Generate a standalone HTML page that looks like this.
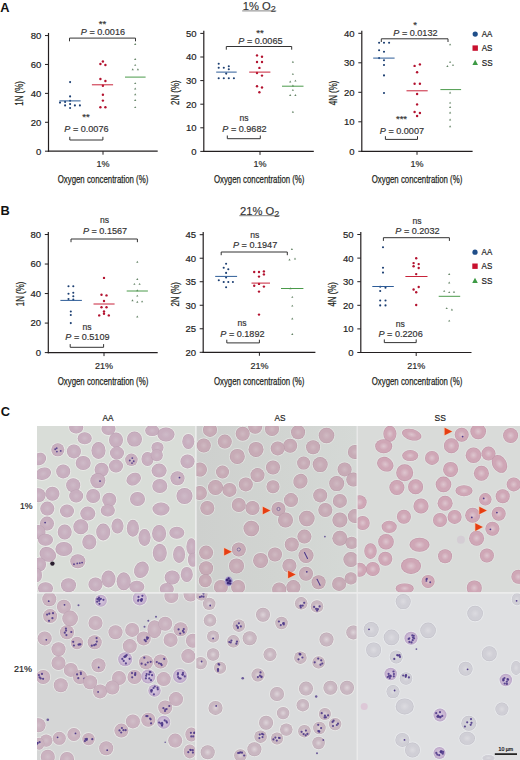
<!DOCTYPE html>
<html><head><meta charset="utf-8"><style>
html,body{margin:0;padding:0;background:#fff;}
svg{display:block;font-family:"Liberation Sans", sans-serif;}
</style></head><body>
<svg width="520" height="760" viewBox="0 0 520 760">
<rect width="520" height="760" fill="#fff"/>
<text x="0.3" y="11.8" font-size="12.8" text-anchor="start" fill="#111" font-weight="bold" >A</text>
<text x="0.6" y="215.2" font-size="12.8" text-anchor="start" fill="#111" font-weight="bold" >B</text>
<text x="0.8" y="416.3" font-size="12.8" text-anchor="start" fill="#111" font-weight="bold" >C</text>
<text x="259.2" y="10.1" font-size="11.2" text-anchor="middle" fill="#333" stroke="#333" stroke-width="0.15">1% O<tspan font-size="9" dy="2.2">2</tspan></text>
<line x1="242.2" y1="10.9" x2="276.3" y2="10.9" stroke="#777" stroke-width="0.9"/>
<text x="259.7" y="214.9" font-size="11.2" text-anchor="middle" fill="#333" stroke="#333" stroke-width="0.15">21% O<tspan font-size="9" dy="2.2">2</tspan></text>
<line x1="239.3" y1="215.7" x2="279.6" y2="215.7" stroke="#777" stroke-width="0.9"/>
<line x1="48.5" y1="32.95199999999999" x2="48.5" y2="151.79999999999998" stroke="#231f20" stroke-width="1.2"/>
<line x1="47.9" y1="151.2" x2="157.7" y2="151.2" stroke="#231f20" stroke-width="1.2"/>
<line x1="45.0" y1="151.2" x2="48.5" y2="151.2" stroke="#231f20" stroke-width="1"/>
<text x="41.3" y="154.6" font-size="9.4" text-anchor="end" fill="#222" textLength="5.3" lengthAdjust="spacingAndGlyphs"  stroke="#222" stroke-width="0.18">0</text>
<line x1="45.0" y1="122.28799999999998" x2="48.5" y2="122.28799999999998" stroke="#231f20" stroke-width="1"/>
<text x="41.3" y="125.68799999999999" font-size="9.4" text-anchor="end" fill="#222" textLength="10.6" lengthAdjust="spacingAndGlyphs"  stroke="#222" stroke-width="0.18">20</text>
<line x1="45.0" y1="93.37599999999999" x2="48.5" y2="93.37599999999999" stroke="#231f20" stroke-width="1"/>
<text x="41.3" y="96.776" font-size="9.4" text-anchor="end" fill="#222" textLength="10.6" lengthAdjust="spacingAndGlyphs"  stroke="#222" stroke-width="0.18">40</text>
<line x1="45.0" y1="64.46399999999998" x2="48.5" y2="64.46399999999998" stroke="#231f20" stroke-width="1"/>
<text x="41.3" y="67.86399999999999" font-size="9.4" text-anchor="end" fill="#222" textLength="10.6" lengthAdjust="spacingAndGlyphs"  stroke="#222" stroke-width="0.18">60</text>
<line x1="45.0" y1="35.55199999999999" x2="48.5" y2="35.55199999999999" stroke="#231f20" stroke-width="1"/>
<text x="41.3" y="38.95199999999999" font-size="9.4" text-anchor="end" fill="#222" textLength="10.6" lengthAdjust="spacingAndGlyphs"  stroke="#222" stroke-width="0.18">80</text>
<line x1="103" y1="151.2" x2="103" y2="154.7" stroke="#231f20" stroke-width="1"/>
<text x="103" y="166.7" font-size="9" text-anchor="middle" fill="#2a2a2a"  stroke="#2a2a2a" stroke-width="0.18">1%</text>
<text x="103.0" y="182.9" font-size="11.4" text-anchor="middle" fill="#231f20" textLength="90.5" lengthAdjust="spacingAndGlyphs" stroke="#231f20" stroke-width="0.25">Oxygen concentration (%)</text>
<text x="0" y="0" font-size="11.5" text-anchor="middle" fill="#231f20" stroke="#231f20" stroke-width="0.25" textLength="24.5" lengthAdjust="spacingAndGlyphs" transform="translate(23.4,93.4) rotate(-90)">1N (%)</text>
<line x1="203.8" y1="30.800000000000004" x2="203.8" y2="152.0" stroke="#231f20" stroke-width="1.2"/>
<line x1="203.20000000000002" y1="151.4" x2="313.8" y2="151.4" stroke="#231f20" stroke-width="1.2"/>
<line x1="200.3" y1="151.4" x2="203.8" y2="151.4" stroke="#231f20" stroke-width="1"/>
<text x="196.60000000000002" y="154.8" font-size="9.4" text-anchor="end" fill="#222" textLength="5.3" lengthAdjust="spacingAndGlyphs"  stroke="#222" stroke-width="0.18">0</text>
<line x1="200.3" y1="127.80000000000001" x2="203.8" y2="127.80000000000001" stroke="#231f20" stroke-width="1"/>
<text x="196.60000000000002" y="131.20000000000002" font-size="9.4" text-anchor="end" fill="#222" textLength="10.6" lengthAdjust="spacingAndGlyphs"  stroke="#222" stroke-width="0.18">10</text>
<line x1="200.3" y1="104.20000000000002" x2="203.8" y2="104.20000000000002" stroke="#231f20" stroke-width="1"/>
<text x="196.60000000000002" y="107.60000000000002" font-size="9.4" text-anchor="end" fill="#222" textLength="10.6" lengthAdjust="spacingAndGlyphs"  stroke="#222" stroke-width="0.18">20</text>
<line x1="200.3" y1="80.60000000000001" x2="203.8" y2="80.60000000000001" stroke="#231f20" stroke-width="1"/>
<text x="196.60000000000002" y="84.00000000000001" font-size="9.4" text-anchor="end" fill="#222" textLength="10.6" lengthAdjust="spacingAndGlyphs"  stroke="#222" stroke-width="0.18">30</text>
<line x1="200.3" y1="57.000000000000014" x2="203.8" y2="57.000000000000014" stroke="#231f20" stroke-width="1"/>
<text x="196.60000000000002" y="60.40000000000001" font-size="9.4" text-anchor="end" fill="#222" textLength="10.6" lengthAdjust="spacingAndGlyphs"  stroke="#222" stroke-width="0.18">40</text>
<line x1="200.3" y1="33.400000000000006" x2="203.8" y2="33.400000000000006" stroke="#231f20" stroke-width="1"/>
<text x="196.60000000000002" y="36.800000000000004" font-size="9.4" text-anchor="end" fill="#222" textLength="10.6" lengthAdjust="spacingAndGlyphs"  stroke="#222" stroke-width="0.18">50</text>
<line x1="260" y1="151.4" x2="260" y2="154.9" stroke="#231f20" stroke-width="1"/>
<text x="260" y="166.7" font-size="9" text-anchor="middle" fill="#2a2a2a"  stroke="#2a2a2a" stroke-width="0.18">1%</text>
<text x="259.2" y="182.9" font-size="11.4" text-anchor="middle" fill="#231f20" textLength="90.5" lengthAdjust="spacingAndGlyphs" stroke="#231f20" stroke-width="0.25">Oxygen concentration (%)</text>
<text x="0" y="0" font-size="11.5" text-anchor="middle" fill="#231f20" stroke="#231f20" stroke-width="0.25" textLength="24.5" lengthAdjust="spacingAndGlyphs" transform="translate(178.8,92.7) rotate(-90)">2N (%)</text>
<line x1="361.8" y1="30.70000000000001" x2="361.8" y2="151.9" stroke="#231f20" stroke-width="1.2"/>
<line x1="361.2" y1="151.3" x2="472.6" y2="151.3" stroke="#231f20" stroke-width="1.2"/>
<line x1="358.3" y1="151.3" x2="361.8" y2="151.3" stroke="#231f20" stroke-width="1"/>
<text x="354.6" y="154.70000000000002" font-size="9.4" text-anchor="end" fill="#222" textLength="5.3" lengthAdjust="spacingAndGlyphs"  stroke="#222" stroke-width="0.18">0</text>
<line x1="358.3" y1="121.80000000000001" x2="361.8" y2="121.80000000000001" stroke="#231f20" stroke-width="1"/>
<text x="354.6" y="125.20000000000002" font-size="9.4" text-anchor="end" fill="#222" textLength="10.6" lengthAdjust="spacingAndGlyphs"  stroke="#222" stroke-width="0.18">10</text>
<line x1="358.3" y1="92.30000000000001" x2="361.8" y2="92.30000000000001" stroke="#231f20" stroke-width="1"/>
<text x="354.6" y="95.70000000000002" font-size="9.4" text-anchor="end" fill="#222" textLength="10.6" lengthAdjust="spacingAndGlyphs"  stroke="#222" stroke-width="0.18">20</text>
<line x1="358.3" y1="62.80000000000001" x2="361.8" y2="62.80000000000001" stroke="#231f20" stroke-width="1"/>
<text x="354.6" y="66.20000000000002" font-size="9.4" text-anchor="end" fill="#222" textLength="10.6" lengthAdjust="spacingAndGlyphs"  stroke="#222" stroke-width="0.18">30</text>
<line x1="358.3" y1="33.30000000000001" x2="361.8" y2="33.30000000000001" stroke="#231f20" stroke-width="1"/>
<text x="354.6" y="36.70000000000001" font-size="9.4" text-anchor="end" fill="#222" textLength="10.6" lengthAdjust="spacingAndGlyphs"  stroke="#222" stroke-width="0.18">40</text>
<line x1="417" y1="151.3" x2="417" y2="154.8" stroke="#231f20" stroke-width="1"/>
<text x="417" y="166.7" font-size="9" text-anchor="middle" fill="#2a2a2a"  stroke="#2a2a2a" stroke-width="0.18">1%</text>
<text x="417.0" y="182.9" font-size="11.4" text-anchor="middle" fill="#231f20" textLength="90.5" lengthAdjust="spacingAndGlyphs" stroke="#231f20" stroke-width="0.25">Oxygen concentration (%)</text>
<text x="0" y="0" font-size="11.5" text-anchor="middle" fill="#231f20" stroke="#231f20" stroke-width="0.25" textLength="24.5" lengthAdjust="spacingAndGlyphs" transform="translate(337.3,93) rotate(-90)">4N (%)</text>
<circle cx="70.1" cy="82.1" r="1.05" fill="#1c3f72" opacity="1"/>
<circle cx="70.1" cy="96.4" r="1.05" fill="#1c3f72" opacity="1"/>
<circle cx="70.1" cy="100.7" r="1.05" fill="#1c3f72" opacity="1"/>
<circle cx="60" cy="102.6" r="1.05" fill="#1c3f72" opacity="1"/>
<circle cx="65.1" cy="101.9" r="1.05" fill="#1c3f72" opacity="1"/>
<circle cx="70.1" cy="104.1" r="1.05" fill="#1c3f72" opacity="1"/>
<circle cx="65.1" cy="105.4" r="1.05" fill="#1c3f72" opacity="1"/>
<circle cx="74.9" cy="105.4" r="1.05" fill="#1c3f72" opacity="1"/>
<circle cx="79.9" cy="105.4" r="1.05" fill="#1c3f72" opacity="1"/>
<circle cx="70.1" cy="108" r="1.05" fill="#1c3f72" opacity="1"/>
<circle cx="100.4" cy="64" r="1.2" fill="#b3122f" opacity="1"/>
<circle cx="102.9" cy="61.5" r="1.2" fill="#b3122f" opacity="1"/>
<circle cx="105.4" cy="65" r="1.2" fill="#b3122f" opacity="1"/>
<circle cx="100.4" cy="79" r="1.2" fill="#b3122f" opacity="1"/>
<circle cx="105.4" cy="81" r="1.2" fill="#b3122f" opacity="1"/>
<circle cx="102.9" cy="85.8" r="1.2" fill="#b3122f" opacity="1"/>
<circle cx="102.9" cy="94.8" r="1.2" fill="#b3122f" opacity="1"/>
<circle cx="102.9" cy="100.6" r="1.2" fill="#b3122f" opacity="1"/>
<circle cx="100.4" cy="107.3" r="1.2" fill="#b3122f" opacity="1"/>
<circle cx="105.4" cy="107.3" r="1.2" fill="#b3122f" opacity="1"/>
<path d="M134.10,45.00 L135.20,43.10 L136.30,45.00 Z" fill="#4a6e4c" opacity="0.85"/>
<path d="M134.10,60.00 L135.20,58.10 L136.30,60.00 Z" fill="#4a6e4c" opacity="0.85"/>
<path d="M134.10,65.80 L135.20,63.90 L136.30,65.80 Z" fill="#4a6e4c" opacity="0.85"/>
<path d="M131.60,70.20 L132.70,68.30 L133.80,70.20 Z" fill="#4a6e4c" opacity="0.85"/>
<path d="M136.80,70.20 L137.90,68.30 L139.00,70.20 Z" fill="#4a6e4c" opacity="0.85"/>
<path d="M134.10,84.10 L135.20,82.20 L136.30,84.10 Z" fill="#4a6e4c" opacity="0.85"/>
<path d="M134.10,89.50 L135.20,87.60 L136.30,89.50 Z" fill="#4a6e4c" opacity="0.85"/>
<path d="M134.10,95.20 L135.20,93.30 L136.30,95.20 Z" fill="#4a6e4c" opacity="0.85"/>
<path d="M134.10,101.00 L135.20,99.10 L136.30,101.00 Z" fill="#4a6e4c" opacity="0.85"/>
<path d="M134.10,108.10 L135.20,106.20 L136.30,108.10 Z" fill="#4a6e4c" opacity="0.85"/>
<line x1="59.4" y1="100.9" x2="80.6" y2="100.9" stroke="#2d5c98" stroke-width="1.0"/>
<line x1="91.9" y1="84.8" x2="113.1" y2="84.8" stroke="#c8233a" stroke-width="1.0"/>
<line x1="125" y1="77.1" x2="145.6" y2="77.1" stroke="#4a9a4a" stroke-width="1.0"/>
<text x="102.9" y="34.800000000000004" font-size="9.3" text-anchor="middle" fill="#333" stroke="#333" stroke-width="0.18" textLength="44.2" lengthAdjust="spacingAndGlyphs"><tspan font-style="italic">P</tspan> = 0.0016</text>
<text x="102.5" y="27.1" font-size="9.5" text-anchor="middle" fill="#333"  stroke="#333" stroke-width="0.18">**</text>
<path d="M69.5,41.300000000000004 V38.1 H135.5 V41.300000000000004" fill="none" stroke="#333" stroke-width="1"/>
<text x="86.4" y="132.0" font-size="9.3" text-anchor="middle" fill="#333" stroke="#333" stroke-width="0.18" textLength="44.2" lengthAdjust="spacingAndGlyphs"><tspan font-style="italic">P</tspan> = 0.0076</text>
<text x="86" y="120.19999999999999" font-size="9.5" text-anchor="middle" fill="#333"  stroke="#333" stroke-width="0.18">**</text>
<path d="M69.8,136.8 V140.0 H102.9 V136.8" fill="none" stroke="#333" stroke-width="1"/>
<circle cx="218.7" cy="63.8" r="1.05" fill="#1c3f72" opacity="1"/>
<circle cx="218.7" cy="67.8" r="1.05" fill="#1c3f72" opacity="1"/>
<circle cx="223.8" cy="67.8" r="1.05" fill="#1c3f72" opacity="1"/>
<circle cx="228.8" cy="66.2" r="1.05" fill="#1c3f72" opacity="1"/>
<circle cx="228.8" cy="69.2" r="1.05" fill="#1c3f72" opacity="1"/>
<circle cx="226.2" cy="73.6" r="1.05" fill="#1c3f72" opacity="1"/>
<circle cx="218.7" cy="78.3" r="1.05" fill="#1c3f72" opacity="1"/>
<circle cx="223.8" cy="78.3" r="1.05" fill="#1c3f72" opacity="1"/>
<circle cx="228.8" cy="78.3" r="1.05" fill="#1c3f72" opacity="1"/>
<circle cx="233.9" cy="78.3" r="1.05" fill="#1c3f72" opacity="1"/>
<circle cx="257" cy="55.4" r="1.2" fill="#b3122f" opacity="1"/>
<circle cx="262" cy="56.7" r="1.2" fill="#b3122f" opacity="1"/>
<circle cx="257" cy="62" r="1.2" fill="#b3122f" opacity="1"/>
<circle cx="262" cy="62" r="1.2" fill="#b3122f" opacity="1"/>
<circle cx="259.4" cy="67.9" r="1.2" fill="#b3122f" opacity="1"/>
<circle cx="257" cy="73" r="1.2" fill="#b3122f" opacity="1"/>
<circle cx="262" cy="75.6" r="1.2" fill="#b3122f" opacity="1"/>
<circle cx="257" cy="86.2" r="1.2" fill="#b3122f" opacity="1"/>
<circle cx="262" cy="87.5" r="1.2" fill="#b3122f" opacity="1"/>
<circle cx="259.4" cy="92.3" r="1.2" fill="#b3122f" opacity="1"/>
<path d="M291.80,62.70 L292.90,60.80 L294.00,62.70 Z" fill="#4a6e4c" opacity="0.85"/>
<path d="M291.80,74.80 L292.90,72.90 L294.00,74.80 Z" fill="#4a6e4c" opacity="0.85"/>
<path d="M289.10,82.50 L290.20,80.60 L291.30,82.50 Z" fill="#4a6e4c" opacity="0.85"/>
<path d="M294.30,81.60 L295.40,79.70 L296.50,81.60 Z" fill="#4a6e4c" opacity="0.85"/>
<path d="M291.80,86.40 L292.90,84.50 L294.00,86.40 Z" fill="#4a6e4c" opacity="0.85"/>
<path d="M291.80,90.80 L292.90,88.90 L294.00,90.80 Z" fill="#4a6e4c" opacity="0.85"/>
<path d="M289.10,96.00 L290.20,94.10 L291.30,96.00 Z" fill="#4a6e4c" opacity="0.85"/>
<path d="M294.30,96.00 L295.40,94.10 L296.50,96.00 Z" fill="#4a6e4c" opacity="0.85"/>
<path d="M291.80,112.70 L292.90,110.80 L294.00,112.70 Z" fill="#4a6e4c" opacity="0.85"/>
<line x1="216.2" y1="72.1" x2="236.7" y2="72.1" stroke="#2d5c98" stroke-width="1.0"/>
<line x1="249.2" y1="72.1" x2="270.4" y2="72.1" stroke="#c8233a" stroke-width="1.0"/>
<line x1="282" y1="86.2" x2="303.5" y2="86.2" stroke="#4a9a4a" stroke-width="1.0"/>
<text x="260.4" y="43.900000000000006" font-size="9.3" text-anchor="middle" fill="#333" stroke="#333" stroke-width="0.18" textLength="44.2" lengthAdjust="spacingAndGlyphs"><tspan font-style="italic">P</tspan> = 0.0065</text>
<text x="260" y="36.2" font-size="9.5" text-anchor="middle" fill="#333"  stroke="#333" stroke-width="0.18">**</text>
<path d="M226.3,49.7 V46.5 H291.7 V49.7" fill="none" stroke="#333" stroke-width="1"/>
<text x="244.4" y="131.7" font-size="9.3" text-anchor="middle" fill="#333" stroke="#333" stroke-width="0.18" textLength="44.2" lengthAdjust="spacingAndGlyphs"><tspan font-style="italic">P</tspan> = 0.9682</text>
<text x="244" y="121.2" font-size="8.6" text-anchor="middle" fill="#333"  stroke="#333" stroke-width="0.18">ns</text>
<path d="M227.3,135.5 V138.7 H260.3 V135.5" fill="none" stroke="#333" stroke-width="1"/>
<circle cx="379.1" cy="42.8" r="1.05" fill="#1c3f72" opacity="1"/>
<circle cx="384" cy="42.8" r="1.05" fill="#1c3f72" opacity="1"/>
<circle cx="389.1" cy="42.8" r="1.05" fill="#1c3f72" opacity="1"/>
<circle cx="379.1" cy="50.3" r="1.05" fill="#1c3f72" opacity="1"/>
<circle cx="384" cy="51.7" r="1.05" fill="#1c3f72" opacity="1"/>
<circle cx="379.1" cy="58.1" r="1.05" fill="#1c3f72" opacity="1"/>
<circle cx="384" cy="60.2" r="1.05" fill="#1c3f72" opacity="1"/>
<circle cx="384" cy="65" r="1.05" fill="#1c3f72" opacity="1"/>
<circle cx="384" cy="75.4" r="1.05" fill="#1c3f72" opacity="1"/>
<circle cx="384" cy="93" r="1.05" fill="#1c3f72" opacity="1"/>
<circle cx="414.6" cy="65.9" r="1.2" fill="#b3122f" opacity="1"/>
<circle cx="419.9" cy="64.4" r="1.2" fill="#b3122f" opacity="1"/>
<circle cx="417.1" cy="72.2" r="1.2" fill="#b3122f" opacity="1"/>
<circle cx="414.6" cy="83.8" r="1.2" fill="#b3122f" opacity="1"/>
<circle cx="419.9" cy="83.8" r="1.2" fill="#b3122f" opacity="1"/>
<circle cx="417.1" cy="94" r="1.2" fill="#b3122f" opacity="1"/>
<circle cx="417.1" cy="104.4" r="1.2" fill="#b3122f" opacity="1"/>
<circle cx="414.6" cy="112" r="1.2" fill="#b3122f" opacity="1"/>
<circle cx="419.9" cy="113" r="1.2" fill="#b3122f" opacity="1"/>
<circle cx="417.1" cy="116" r="1.2" fill="#b3122f" opacity="1"/>
<path d="M449.00,45.30 L450.10,43.40 L451.20,45.30 Z" fill="#4a6e4c" opacity="0.85"/>
<path d="M449.00,62.80 L450.10,60.90 L451.20,62.80 Z" fill="#4a6e4c" opacity="0.85"/>
<path d="M446.30,67.00 L447.40,65.10 L448.50,67.00 Z" fill="#4a6e4c" opacity="0.85"/>
<path d="M451.90,65.80 L453.00,63.90 L454.10,65.80 Z" fill="#4a6e4c" opacity="0.85"/>
<path d="M449.00,93.40 L450.10,91.50 L451.20,93.40 Z" fill="#4a6e4c" opacity="0.85"/>
<path d="M449.00,103.60 L450.10,101.70 L451.20,103.60 Z" fill="#4a6e4c" opacity="0.85"/>
<path d="M449.00,107.90 L450.10,106.00 L451.20,107.90 Z" fill="#4a6e4c" opacity="0.85"/>
<path d="M449.00,113.40 L450.10,111.50 L451.20,113.40 Z" fill="#4a6e4c" opacity="0.85"/>
<path d="M449.00,120.40 L450.10,118.50 L451.20,120.40 Z" fill="#4a6e4c" opacity="0.85"/>
<path d="M449.00,127.20 L450.10,125.30 L451.20,127.20 Z" fill="#4a6e4c" opacity="0.85"/>
<line x1="373.2" y1="58.1" x2="394.6" y2="58.1" stroke="#2d5c98" stroke-width="1.0"/>
<line x1="406.5" y1="90.8" x2="427.7" y2="90.8" stroke="#c8233a" stroke-width="1.0"/>
<line x1="440.4" y1="89.6" x2="461.1" y2="89.6" stroke="#4a9a4a" stroke-width="1.0"/>
<text x="415.4" y="36.300000000000004" font-size="9.3" text-anchor="middle" fill="#333" stroke="#333" stroke-width="0.18" textLength="44.2" lengthAdjust="spacingAndGlyphs"><tspan font-style="italic">P</tspan> = 0.0132</text>
<text x="415" y="28.4" font-size="9.5" text-anchor="middle" fill="#333"  stroke="#333" stroke-width="0.18">*</text>
<path d="M381.3,42.00000000000001 V38.800000000000004 H448 V42.00000000000001" fill="none" stroke="#333" stroke-width="1"/>
<text x="401.9" y="133.6" font-size="9.3" text-anchor="middle" fill="#333" stroke="#333" stroke-width="0.18" textLength="44.2" lengthAdjust="spacingAndGlyphs"><tspan font-style="italic">P</tspan> = 0.0007</text>
<text x="401.5" y="122.3" font-size="9.5" text-anchor="middle" fill="#333"  stroke="#333" stroke-width="0.18">***</text>
<path d="M385.4,136.20000000000002 V139.4 H417.5 V136.20000000000002" fill="none" stroke="#333" stroke-width="1"/>
<circle cx="475.2" cy="34.1" r="2.6" fill="#1f4e89"/>
<text x="481.8" y="37.2" font-size="8.6" text-anchor="start" fill="#222" textLength="10.6" lengthAdjust="spacingAndGlyphs"  stroke="#222" stroke-width="0.18">AA</text>
<rect x="472.5" y="45.400000000000006" width="5.4" height="5.4" fill="#c8102e"/>
<text x="481.8" y="51.3" font-size="8.6" text-anchor="start" fill="#222" textLength="10.6" lengthAdjust="spacingAndGlyphs"  stroke="#222" stroke-width="0.18">AS</text>
<path d="M472.4,64.9 L475.2,59.7 L478.0,64.9 Z" fill="#3d9a45"/>
<text x="481.8" y="65.5" font-size="8.6" text-anchor="start" fill="#222" textLength="10.8" lengthAdjust="spacingAndGlyphs"  stroke="#222" stroke-width="0.18">SS</text>
<line x1="48.3" y1="231.92000000000004" x2="48.3" y2="353.20000000000005" stroke="#231f20" stroke-width="1.2"/>
<line x1="47.699999999999996" y1="352.6" x2="157.7" y2="352.6" stroke="#231f20" stroke-width="1.2"/>
<line x1="44.8" y1="352.6" x2="48.3" y2="352.6" stroke="#231f20" stroke-width="1"/>
<text x="41.099999999999994" y="356.0" font-size="9.4" text-anchor="end" fill="#222" textLength="5.3" lengthAdjust="spacingAndGlyphs"  stroke="#222" stroke-width="0.18">0</text>
<line x1="44.8" y1="323.08000000000004" x2="48.3" y2="323.08000000000004" stroke="#231f20" stroke-width="1"/>
<text x="41.099999999999994" y="326.48" font-size="9.4" text-anchor="end" fill="#222" textLength="10.6" lengthAdjust="spacingAndGlyphs"  stroke="#222" stroke-width="0.18">20</text>
<line x1="44.8" y1="293.56" x2="48.3" y2="293.56" stroke="#231f20" stroke-width="1"/>
<text x="41.099999999999994" y="296.96" font-size="9.4" text-anchor="end" fill="#222" textLength="10.6" lengthAdjust="spacingAndGlyphs"  stroke="#222" stroke-width="0.18">40</text>
<line x1="44.8" y1="264.04" x2="48.3" y2="264.04" stroke="#231f20" stroke-width="1"/>
<text x="41.099999999999994" y="267.44" font-size="9.4" text-anchor="end" fill="#222" textLength="10.6" lengthAdjust="spacingAndGlyphs"  stroke="#222" stroke-width="0.18">60</text>
<line x1="44.8" y1="234.52000000000004" x2="48.3" y2="234.52000000000004" stroke="#231f20" stroke-width="1"/>
<text x="41.099999999999994" y="237.92000000000004" font-size="9.4" text-anchor="end" fill="#222" textLength="10.6" lengthAdjust="spacingAndGlyphs"  stroke="#222" stroke-width="0.18">80</text>
<line x1="104" y1="352.6" x2="104" y2="356.1" stroke="#231f20" stroke-width="1"/>
<text x="104" y="368.8" font-size="9" text-anchor="middle" fill="#2a2a2a"  stroke="#2a2a2a" stroke-width="0.18">21%</text>
<text x="103.0" y="384.7" font-size="11.4" text-anchor="middle" fill="#231f20" textLength="90.5" lengthAdjust="spacingAndGlyphs" stroke="#231f20" stroke-width="0.25">Oxygen concentration (%)</text>
<text x="0" y="0" font-size="11.5" text-anchor="middle" fill="#231f20" stroke="#231f20" stroke-width="0.25" textLength="24.5" lengthAdjust="spacingAndGlyphs" transform="translate(24,294) rotate(-90)">1N (%)</text>
<line x1="203.2" y1="232.10000000000002" x2="203.2" y2="352.90000000000003" stroke="#231f20" stroke-width="1.2"/>
<line x1="202.6" y1="352.3" x2="315.4" y2="352.3" stroke="#231f20" stroke-width="1.2"/>
<line x1="199.7" y1="352.3" x2="203.2" y2="352.3" stroke="#231f20" stroke-width="1"/>
<text x="196.0" y="355.7" font-size="9.4" text-anchor="end" fill="#222" textLength="10.6" lengthAdjust="spacingAndGlyphs"  stroke="#222" stroke-width="0.18">20</text>
<line x1="199.7" y1="328.78000000000003" x2="203.2" y2="328.78000000000003" stroke="#231f20" stroke-width="1"/>
<text x="196.0" y="332.18" font-size="9.4" text-anchor="end" fill="#222" textLength="10.6" lengthAdjust="spacingAndGlyphs"  stroke="#222" stroke-width="0.18">25</text>
<line x1="199.7" y1="305.26" x2="203.2" y2="305.26" stroke="#231f20" stroke-width="1"/>
<text x="196.0" y="308.65999999999997" font-size="9.4" text-anchor="end" fill="#222" textLength="10.6" lengthAdjust="spacingAndGlyphs"  stroke="#222" stroke-width="0.18">30</text>
<line x1="199.7" y1="281.74" x2="203.2" y2="281.74" stroke="#231f20" stroke-width="1"/>
<text x="196.0" y="285.14" font-size="9.4" text-anchor="end" fill="#222" textLength="10.6" lengthAdjust="spacingAndGlyphs"  stroke="#222" stroke-width="0.18">35</text>
<line x1="199.7" y1="258.22" x2="203.2" y2="258.22" stroke="#231f20" stroke-width="1"/>
<text x="196.0" y="261.62" font-size="9.4" text-anchor="end" fill="#222" textLength="10.6" lengthAdjust="spacingAndGlyphs"  stroke="#222" stroke-width="0.18">40</text>
<line x1="199.7" y1="234.70000000000002" x2="203.2" y2="234.70000000000002" stroke="#231f20" stroke-width="1"/>
<text x="196.0" y="238.10000000000002" font-size="9.4" text-anchor="end" fill="#222" textLength="10.6" lengthAdjust="spacingAndGlyphs"  stroke="#222" stroke-width="0.18">45</text>
<line x1="259.4" y1="352.3" x2="259.4" y2="355.8" stroke="#231f20" stroke-width="1"/>
<text x="259.4" y="368.8" font-size="9" text-anchor="middle" fill="#2a2a2a"  stroke="#2a2a2a" stroke-width="0.18">21%</text>
<text x="259.2" y="384.7" font-size="11.4" text-anchor="middle" fill="#231f20" textLength="90.5" lengthAdjust="spacingAndGlyphs" stroke="#231f20" stroke-width="0.25">Oxygen concentration (%)</text>
<text x="0" y="0" font-size="11.5" text-anchor="middle" fill="#231f20" stroke="#231f20" stroke-width="0.25" textLength="24.5" lengthAdjust="spacingAndGlyphs" transform="translate(179,294.3) rotate(-90)">2N (%)</text>
<line x1="360.8" y1="231.9" x2="360.8" y2="353.1" stroke="#231f20" stroke-width="1.2"/>
<line x1="360.2" y1="352.5" x2="471.5" y2="352.5" stroke="#231f20" stroke-width="1.2"/>
<line x1="357.3" y1="352.5" x2="360.8" y2="352.5" stroke="#231f20" stroke-width="1"/>
<text x="353.6" y="355.9" font-size="9.4" text-anchor="end" fill="#222" textLength="5.3" lengthAdjust="spacingAndGlyphs"  stroke="#222" stroke-width="0.18">0</text>
<line x1="357.3" y1="328.9" x2="360.8" y2="328.9" stroke="#231f20" stroke-width="1"/>
<text x="353.6" y="332.29999999999995" font-size="9.4" text-anchor="end" fill="#222" textLength="10.6" lengthAdjust="spacingAndGlyphs"  stroke="#222" stroke-width="0.18">10</text>
<line x1="357.3" y1="305.3" x2="360.8" y2="305.3" stroke="#231f20" stroke-width="1"/>
<text x="353.6" y="308.7" font-size="9.4" text-anchor="end" fill="#222" textLength="10.6" lengthAdjust="spacingAndGlyphs"  stroke="#222" stroke-width="0.18">20</text>
<line x1="357.3" y1="281.7" x2="360.8" y2="281.7" stroke="#231f20" stroke-width="1"/>
<text x="353.6" y="285.09999999999997" font-size="9.4" text-anchor="end" fill="#222" textLength="10.6" lengthAdjust="spacingAndGlyphs"  stroke="#222" stroke-width="0.18">30</text>
<line x1="357.3" y1="258.1" x2="360.8" y2="258.1" stroke="#231f20" stroke-width="1"/>
<text x="353.6" y="261.5" font-size="9.4" text-anchor="end" fill="#222" textLength="10.6" lengthAdjust="spacingAndGlyphs"  stroke="#222" stroke-width="0.18">40</text>
<line x1="357.3" y1="234.5" x2="360.8" y2="234.5" stroke="#231f20" stroke-width="1"/>
<text x="353.6" y="237.9" font-size="9.4" text-anchor="end" fill="#222" textLength="10.6" lengthAdjust="spacingAndGlyphs"  stroke="#222" stroke-width="0.18">50</text>
<line x1="416.2" y1="352.5" x2="416.2" y2="356.0" stroke="#231f20" stroke-width="1"/>
<text x="416.2" y="368.8" font-size="9" text-anchor="middle" fill="#2a2a2a"  stroke="#2a2a2a" stroke-width="0.18">21%</text>
<text x="417.0" y="384.7" font-size="11.4" text-anchor="middle" fill="#231f20" textLength="90.5" lengthAdjust="spacingAndGlyphs" stroke="#231f20" stroke-width="0.25">Oxygen concentration (%)</text>
<text x="0" y="0" font-size="11.5" text-anchor="middle" fill="#231f20" stroke="#231f20" stroke-width="0.25" textLength="24.5" lengthAdjust="spacingAndGlyphs" transform="translate(336,294.3) rotate(-90)">4N (%)</text>
<circle cx="68.5" cy="286.2" r="1.05" fill="#1c3f72" opacity="1"/>
<circle cx="73.3" cy="286.2" r="1.05" fill="#1c3f72" opacity="1"/>
<circle cx="68.5" cy="293.8" r="1.05" fill="#1c3f72" opacity="1"/>
<circle cx="73.3" cy="292.7" r="1.05" fill="#1c3f72" opacity="1"/>
<circle cx="73.3" cy="296.2" r="1.05" fill="#1c3f72" opacity="1"/>
<circle cx="68.5" cy="299" r="1.05" fill="#1c3f72" opacity="1"/>
<circle cx="73.3" cy="299.6" r="1.05" fill="#1c3f72" opacity="1"/>
<circle cx="70.8" cy="311.5" r="1.05" fill="#1c3f72" opacity="1"/>
<circle cx="70.8" cy="315" r="1.05" fill="#1c3f72" opacity="1"/>
<circle cx="70.8" cy="323.1" r="1.05" fill="#1c3f72" opacity="1"/>
<circle cx="104" cy="277.9" r="1.2" fill="#b3122f" opacity="1"/>
<circle cx="101.5" cy="294.8" r="1.2" fill="#b3122f" opacity="1"/>
<circle cx="106.5" cy="295.4" r="1.2" fill="#b3122f" opacity="1"/>
<circle cx="104" cy="301" r="1.2" fill="#b3122f" opacity="1"/>
<circle cx="101.5" cy="307.3" r="1.2" fill="#b3122f" opacity="1"/>
<circle cx="106.5" cy="307.3" r="1.2" fill="#b3122f" opacity="1"/>
<circle cx="104" cy="311.5" r="1.2" fill="#b3122f" opacity="1"/>
<circle cx="104" cy="313.8" r="1.2" fill="#b3122f" opacity="1"/>
<circle cx="99.2" cy="315.4" r="1.2" fill="#b3122f" opacity="1"/>
<circle cx="108.8" cy="315.4" r="1.2" fill="#b3122f" opacity="1"/>
<path d="M136.20,262.70 L137.30,260.80 L138.40,262.70 Z" fill="#4a6e4c" opacity="0.85"/>
<path d="M136.20,280.00 L137.30,278.10 L138.40,280.00 Z" fill="#4a6e4c" opacity="0.85"/>
<path d="M133.30,284.80 L134.40,282.90 L135.50,284.80 Z" fill="#4a6e4c" opacity="0.85"/>
<path d="M138.50,284.80 L139.60,282.90 L140.70,284.80 Z" fill="#4a6e4c" opacity="0.85"/>
<path d="M136.20,291.20 L137.30,289.30 L138.40,291.20 Z" fill="#4a6e4c" opacity="0.85"/>
<path d="M136.20,296.60 L137.30,294.70 L138.40,296.60 Z" fill="#4a6e4c" opacity="0.85"/>
<path d="M131.40,301.20 L132.50,299.30 L133.60,301.20 Z" fill="#4a6e4c" opacity="0.85"/>
<path d="M136.20,302.70 L137.30,300.80 L138.40,302.70 Z" fill="#4a6e4c" opacity="0.85"/>
<path d="M141.00,302.30 L142.10,300.40 L143.20,302.30 Z" fill="#4a6e4c" opacity="0.85"/>
<path d="M136.20,317.50 L137.30,315.60 L138.40,317.50 Z" fill="#4a6e4c" opacity="0.85"/>
<line x1="60.4" y1="300.4" x2="81.9" y2="300.4" stroke="#2d5c98" stroke-width="1.0"/>
<line x1="93.5" y1="304" x2="114.6" y2="304" stroke="#c8233a" stroke-width="1.0"/>
<line x1="126.7" y1="291" x2="147.9" y2="291" stroke="#4a9a4a" stroke-width="1.0"/>
<text x="105.0" y="233.7" font-size="9.3" text-anchor="middle" fill="#333" stroke="#333" stroke-width="0.18" textLength="44.2" lengthAdjust="spacingAndGlyphs"><tspan font-style="italic">P</tspan> = 0.1567</text>
<text x="104.6" y="223.4" font-size="8.6" text-anchor="middle" fill="#333"  stroke="#333" stroke-width="0.18">ns</text>
<path d="M71,242.2 V239.0 H137.4 V242.2" fill="none" stroke="#333" stroke-width="1"/>
<text x="87.4" y="340.3" font-size="9.3" text-anchor="middle" fill="#333" stroke="#333" stroke-width="0.18" textLength="44.2" lengthAdjust="spacingAndGlyphs"><tspan font-style="italic">P</tspan> = 0.5109</text>
<text x="87" y="329.9" font-size="8.6" text-anchor="middle" fill="#333"  stroke="#333" stroke-width="0.18">ns</text>
<path d="M70.2,344.1 V347.3 H103.6 V344.1" fill="none" stroke="#333" stroke-width="1"/>
<circle cx="226.1" cy="263.8" r="1.05" fill="#1c3f72" opacity="1"/>
<circle cx="223.7" cy="267.8" r="1.05" fill="#1c3f72" opacity="1"/>
<circle cx="228.3" cy="269.3" r="1.05" fill="#1c3f72" opacity="1"/>
<circle cx="226.1" cy="272.9" r="1.05" fill="#1c3f72" opacity="1"/>
<circle cx="226.1" cy="277.5" r="1.05" fill="#1c3f72" opacity="1"/>
<circle cx="218.8" cy="280.2" r="1.05" fill="#1c3f72" opacity="1"/>
<circle cx="223.7" cy="282" r="1.05" fill="#1c3f72" opacity="1"/>
<circle cx="228.3" cy="282" r="1.05" fill="#1c3f72" opacity="1"/>
<circle cx="232.9" cy="282" r="1.05" fill="#1c3f72" opacity="1"/>
<circle cx="226.1" cy="287.2" r="1.05" fill="#1c3f72" opacity="1"/>
<circle cx="254.2" cy="272" r="1.2" fill="#b3122f" opacity="1"/>
<circle cx="259" cy="272" r="1.2" fill="#b3122f" opacity="1"/>
<circle cx="263.9" cy="271.4" r="1.2" fill="#b3122f" opacity="1"/>
<circle cx="263.9" cy="274.4" r="1.2" fill="#b3122f" opacity="1"/>
<circle cx="259" cy="276.6" r="1.2" fill="#b3122f" opacity="1"/>
<circle cx="254.2" cy="285.7" r="1.2" fill="#b3122f" opacity="1"/>
<circle cx="259" cy="283.9" r="1.2" fill="#b3122f" opacity="1"/>
<circle cx="263.9" cy="286.6" r="1.2" fill="#b3122f" opacity="1"/>
<circle cx="259" cy="291.6" r="1.2" fill="#b3122f" opacity="1"/>
<circle cx="259" cy="314.6" r="1.2" fill="#b3122f" opacity="1"/>
<path d="M290.80,249.90 L291.90,248.00 L293.00,249.90 Z" fill="#4a6e4c" opacity="0.85"/>
<path d="M288.40,260.50 L289.50,258.60 L290.60,260.50 Z" fill="#4a6e4c" opacity="0.85"/>
<path d="M293.90,259.40 L295.00,257.50 L296.10,259.40 Z" fill="#4a6e4c" opacity="0.85"/>
<path d="M289.30,289.20 L290.40,287.30 L291.50,289.20 Z" fill="#4a6e4c" opacity="0.85"/>
<path d="M291.20,297.80 L292.30,295.90 L293.40,297.80 Z" fill="#4a6e4c" opacity="0.85"/>
<path d="M291.20,306.60 L292.30,304.70 L293.40,306.60 Z" fill="#4a6e4c" opacity="0.85"/>
<path d="M291.20,319.40 L292.30,317.50 L293.40,319.40 Z" fill="#4a6e4c" opacity="0.85"/>
<path d="M291.20,334.90 L292.30,333.00 L293.40,334.90 Z" fill="#4a6e4c" opacity="0.85"/>
<line x1="215.2" y1="276.4" x2="237.1" y2="276.4" stroke="#2d5c98" stroke-width="1.0"/>
<line x1="251.5" y1="283.1" x2="270" y2="283.1" stroke="#c8233a" stroke-width="1.0"/>
<line x1="281" y1="288.5" x2="303.4" y2="288.5" stroke="#4a9a4a" stroke-width="1.0"/>
<text x="255.1" y="248.0" font-size="9.3" text-anchor="middle" fill="#333" stroke="#333" stroke-width="0.18" textLength="44.2" lengthAdjust="spacingAndGlyphs"><tspan font-style="italic">P</tspan> = 0.1947</text>
<text x="254.7" y="238.1" font-size="8.6" text-anchor="middle" fill="#333"  stroke="#333" stroke-width="0.18">ns</text>
<path d="M221.2,255.2 V252.0 H287.3 V255.2" fill="none" stroke="#333" stroke-width="1"/>
<text x="242.4" y="337.3" font-size="9.3" text-anchor="middle" fill="#333" stroke="#333" stroke-width="0.18" textLength="44.2" lengthAdjust="spacingAndGlyphs"><tspan font-style="italic">P</tspan> = 0.1892</text>
<text x="242" y="326.4" font-size="8.6" text-anchor="middle" fill="#333"  stroke="#333" stroke-width="0.18">ns</text>
<path d="M226.8,339.7 V342.9 H259.4 V339.7" fill="none" stroke="#333" stroke-width="1"/>
<circle cx="383" cy="247.2" r="1.05" fill="#1c3f72" opacity="1"/>
<circle cx="383" cy="267.7" r="1.05" fill="#1c3f72" opacity="1"/>
<circle cx="383" cy="272.6" r="1.05" fill="#1c3f72" opacity="1"/>
<circle cx="380.2" cy="286.8" r="1.05" fill="#1c3f72" opacity="1"/>
<circle cx="385.5" cy="287.8" r="1.05" fill="#1c3f72" opacity="1"/>
<circle cx="380.2" cy="291" r="1.05" fill="#1c3f72" opacity="1"/>
<circle cx="380.2" cy="300.5" r="1.05" fill="#1c3f72" opacity="1"/>
<circle cx="385.5" cy="300.5" r="1.05" fill="#1c3f72" opacity="1"/>
<circle cx="380.2" cy="305.4" r="1.05" fill="#1c3f72" opacity="1"/>
<circle cx="385.5" cy="305.4" r="1.05" fill="#1c3f72" opacity="1"/>
<circle cx="416.2" cy="258.2" r="1.2" fill="#b3122f" opacity="1"/>
<circle cx="413.6" cy="263.1" r="1.2" fill="#b3122f" opacity="1"/>
<circle cx="418.7" cy="264.1" r="1.2" fill="#b3122f" opacity="1"/>
<circle cx="413.6" cy="266.3" r="1.2" fill="#b3122f" opacity="1"/>
<circle cx="418.7" cy="268" r="1.2" fill="#b3122f" opacity="1"/>
<circle cx="416.2" cy="274.1" r="1.2" fill="#b3122f" opacity="1"/>
<circle cx="418.7" cy="287" r="1.2" fill="#b3122f" opacity="1"/>
<circle cx="413.6" cy="289.5" r="1.2" fill="#b3122f" opacity="1"/>
<circle cx="416.2" cy="292.3" r="1.2" fill="#b3122f" opacity="1"/>
<circle cx="416.2" cy="305" r="1.2" fill="#b3122f" opacity="1"/>
<path d="M448.10,275.00 L449.20,273.10 L450.30,275.00 Z" fill="#4a6e4c" opacity="0.85"/>
<path d="M448.10,283.50 L449.20,281.60 L450.30,283.50 Z" fill="#4a6e4c" opacity="0.85"/>
<path d="M443.10,291.80 L444.20,289.90 L445.30,291.80 Z" fill="#4a6e4c" opacity="0.85"/>
<path d="M448.10,293.10 L449.20,291.20 L450.30,293.10 Z" fill="#4a6e4c" opacity="0.85"/>
<path d="M452.90,292.70 L454.00,290.80 L455.10,292.70 Z" fill="#4a6e4c" opacity="0.85"/>
<path d="M445.60,309.10 L446.70,307.20 L447.80,309.10 Z" fill="#4a6e4c" opacity="0.85"/>
<path d="M450.80,310.40 L451.90,308.50 L453.00,310.40 Z" fill="#4a6e4c" opacity="0.85"/>
<path d="M448.10,321.60 L449.20,319.70 L450.30,321.60 Z" fill="#4a6e4c" opacity="0.85"/>
<line x1="372.3" y1="286.5" x2="393.8" y2="286.5" stroke="#2d5c98" stroke-width="1.0"/>
<line x1="405.4" y1="276.5" x2="427.5" y2="276.5" stroke="#c8233a" stroke-width="1.0"/>
<line x1="438.7" y1="296.3" x2="460.2" y2="296.3" stroke="#4a9a4a" stroke-width="1.0"/>
<text x="417.4" y="233.89999999999998" font-size="9.3" text-anchor="middle" fill="#333" stroke="#333" stroke-width="0.18" textLength="44.2" lengthAdjust="spacingAndGlyphs"><tspan font-style="italic">P</tspan> = 0.2032</text>
<text x="417" y="223.9" font-size="8.6" text-anchor="middle" fill="#333"  stroke="#333" stroke-width="0.18">ns</text>
<path d="M383.4,240.89999999999998 V237.7 H449.4 V240.89999999999998" fill="none" stroke="#333" stroke-width="1"/>
<text x="400.59999999999997" y="337.2" font-size="9.3" text-anchor="middle" fill="#333" stroke="#333" stroke-width="0.18" textLength="44.2" lengthAdjust="spacingAndGlyphs"><tspan font-style="italic">P</tspan> = 0.2206</text>
<text x="400.2" y="326.59999999999997" font-size="8.6" text-anchor="middle" fill="#333"  stroke="#333" stroke-width="0.18">ns</text>
<path d="M384.3,339.40000000000003 V342.6 H416.2 V339.40000000000003" fill="none" stroke="#333" stroke-width="1"/>
<circle cx="475" cy="252.2" r="2.6" fill="#1f4e89"/>
<text x="481.6" y="255.29999999999998" font-size="8.6" text-anchor="start" fill="#222" textLength="10.6" lengthAdjust="spacingAndGlyphs"  stroke="#222" stroke-width="0.18">AA</text>
<rect x="472.3" y="263.5" width="5.4" height="5.4" fill="#c8102e"/>
<text x="481.6" y="269.4" font-size="8.6" text-anchor="start" fill="#222" textLength="10.6" lengthAdjust="spacingAndGlyphs"  stroke="#222" stroke-width="0.18">AS</text>
<path d="M472.2,283.0 L475,277.8 L477.8,283.0 Z" fill="#3d9a45"/>
<text x="481.6" y="283.59999999999997" font-size="8.6" text-anchor="start" fill="#222" textLength="10.8" lengthAdjust="spacingAndGlyphs"  stroke="#222" stroke-width="0.18">SS</text>
<text x="107.9" y="420.9" font-size="8.8" text-anchor="middle" fill="#222" textLength="11" lengthAdjust="spacingAndGlyphs"  stroke="#222" stroke-width="0.18">AA</text>
<text x="280" y="420.8" font-size="8.8" text-anchor="middle" fill="#222" textLength="11" lengthAdjust="spacingAndGlyphs"  stroke="#222" stroke-width="0.18">AS</text>
<text x="440.2" y="420.9" font-size="8.8" text-anchor="middle" fill="#222" textLength="11.3" lengthAdjust="spacingAndGlyphs"  stroke="#222" stroke-width="0.18">SS</text>
<text x="26.3" y="509.4" font-size="8.8" text-anchor="middle" fill="#222" textLength="12.6" lengthAdjust="spacingAndGlyphs"  stroke="#222" stroke-width="0.18">1%</text>
<text x="23.1" y="671.5" font-size="8.8" text-anchor="middle" fill="#222" textLength="18" lengthAdjust="spacingAndGlyphs"  stroke="#222" stroke-width="0.18">21%</text>
<defs>
<clipPath id="cp0"><rect x="37" y="426" width="158.6" height="166.6"/></clipPath>
<radialGradient id="g0"><stop offset="0" stop-color="#cebbc8"/><stop offset="0.55" stop-color="#c8afbf"/><stop offset="0.85" stop-color="#c8afbf"/><stop offset="1" stop-color="#ba9fb1"/></radialGradient>
<radialGradient id="gi0"><stop offset="0" stop-color="#d6c8e0"/><stop offset="0.7" stop-color="#c9b6d2"/><stop offset="1" stop-color="#b9a3c6"/></radialGradient>
<clipPath id="cp1"><rect x="196.4" y="426" width="160.6" height="166.6"/></clipPath>
<radialGradient id="g1"><stop offset="0" stop-color="#cfbac2"/><stop offset="0.55" stop-color="#c7abb6"/><stop offset="0.85" stop-color="#c7abb6"/><stop offset="1" stop-color="#b899a7"/></radialGradient>
<radialGradient id="gi1"><stop offset="0" stop-color="#d6c8e0"/><stop offset="0.7" stop-color="#c9b6d2"/><stop offset="1" stop-color="#b9a3c6"/></radialGradient>
<clipPath id="cp2"><rect x="357.4" y="426" width="162.6" height="166.6"/></clipPath>
<radialGradient id="g2"><stop offset="0" stop-color="#ddc6cf"/><stop offset="0.55" stop-color="#cfa7b6"/><stop offset="0.85" stop-color="#cfa7b6"/><stop offset="1" stop-color="#bf93a6"/></radialGradient>
<radialGradient id="gi2"><stop offset="0" stop-color="#d6c8e0"/><stop offset="0.7" stop-color="#c9b6d2"/><stop offset="1" stop-color="#b9a3c6"/></radialGradient>
<clipPath id="cp3"><rect x="37" y="593.4" width="158.6" height="166.6"/></clipPath>
<radialGradient id="g3"><stop offset="0" stop-color="#d1bfc9"/><stop offset="0.55" stop-color="#cab2bf"/><stop offset="0.85" stop-color="#cab2bf"/><stop offset="1" stop-color="#bda3b3"/></radialGradient>
<radialGradient id="gi3"><stop offset="0" stop-color="#d6c8e0"/><stop offset="0.7" stop-color="#c9b6d2"/><stop offset="1" stop-color="#b9a3c6"/></radialGradient>
<clipPath id="cp4"><rect x="196.4" y="593.4" width="160.6" height="166.6"/></clipPath>
<radialGradient id="g4"><stop offset="0" stop-color="#ddd4d9"/><stop offset="0.55" stop-color="#c9b7c1"/><stop offset="0.85" stop-color="#c9b7c1"/><stop offset="1" stop-color="#b8a4b0"/></radialGradient>
<radialGradient id="gi4"><stop offset="0" stop-color="#d6c8e0"/><stop offset="0.7" stop-color="#c9b6d2"/><stop offset="1" stop-color="#b9a3c6"/></radialGradient>
<clipPath id="cp5"><rect x="357.4" y="593.4" width="162.6" height="166.6"/></clipPath>
<radialGradient id="g5"><stop offset="0" stop-color="#dcdbe0"/><stop offset="0.55" stop-color="#d0cfd6"/><stop offset="0.85" stop-color="#d0cfd6"/><stop offset="1" stop-color="#c0bfc7"/></radialGradient>
<radialGradient id="gi5"><stop offset="0" stop-color="#d6c8e0"/><stop offset="0.7" stop-color="#c9b6d2"/><stop offset="1" stop-color="#b9a3c6"/></radialGradient>
<linearGradient id="bgg1" x1="0" x2="1" y1="0" y2="0"><stop offset="0" stop-color="#ced0ce"/><stop offset="0.5" stop-color="#d1d4d1"/><stop offset="1" stop-color="#d5d9d6"/></linearGradient>
</defs>
<rect x="37" y="426" width="483" height="334" fill="#eeeeee"/>
<g clip-path="url(#cp0)">
<rect x="37" y="426" width="158.6" height="166.6" fill="#d9ddd8"/>
<ellipse cx="76.2" cy="427.5" rx="7.9" ry="6.9" fill="#e9eae7"/>
<ellipse cx="108.5" cy="429.0" rx="7.9" ry="6.9" fill="#e9eae7"/>
<ellipse cx="84.7" cy="438.3" rx="7.9" ry="6.9" fill="#e9eae7"/>
<circle cx="57.8" cy="449.8" r="7.4" fill="#e9eae7"/>
<circle cx="73.9" cy="451.4" r="7.9" fill="#e9eae7"/>
<ellipse cx="98.5" cy="450.6" rx="7.9" ry="9.4" fill="#e9eae7"/>
<ellipse cx="116.0" cy="440.0" rx="7.9" ry="8.4" fill="#e9eae7"/>
<ellipse cx="39.3" cy="459.0" rx="7.9" ry="6.9" transform="rotate(-30 39.3 459.0)" fill="#e9eae7"/>
<ellipse cx="83.2" cy="463.0" rx="8.4" ry="7.9" fill="#e9eae7"/>
<ellipse cx="117.0" cy="453.0" rx="7.9" ry="7.4" fill="#e9eae7"/>
<ellipse cx="116.0" cy="466.0" rx="7.9" ry="7.4" fill="#e9eae7"/>
<ellipse cx="43.2" cy="473.7" rx="8.9" ry="6.9" transform="rotate(-20 43.2 473.7)" fill="#e9eae7"/>
<circle cx="63.2" cy="471.4" r="7.9" fill="#e9eae7"/>
<circle cx="101.6" cy="469.8" r="7.9" fill="#e9eae7"/>
<circle cx="97.8" cy="480.6" r="8.4" fill="#e9eae7"/>
<circle cx="73.2" cy="485.2" r="7.9" fill="#e9eae7"/>
<ellipse cx="76.2" cy="496.0" rx="7.9" ry="7.4" fill="#e9eae7"/>
<circle cx="52.4" cy="493.7" r="7.9" fill="#e9eae7"/>
<circle cx="93.2" cy="496.0" r="7.9" fill="#e9eae7"/>
<circle cx="38.5" cy="495.2" r="7.9" fill="#e9eae7"/>
<circle cx="109.3" cy="499.8" r="7.9" fill="#e9eae7"/>
<circle cx="134.5" cy="439.1" r="8.4" fill="#e9eae7"/>
<ellipse cx="152.2" cy="430.6" rx="7.9" ry="6.4" fill="#e9eae7"/>
<ellipse cx="166.0" cy="434.5" rx="9.4" ry="7.9" fill="#e9eae7"/>
<ellipse cx="188.3" cy="441.4" rx="6.9" ry="8.4" fill="#e9eae7"/>
<ellipse cx="157.5" cy="447.5" rx="6.9" ry="6.4" fill="#e9eae7"/>
<circle cx="131.4" cy="459.8" r="7.1" fill="#e9eae7"/>
<ellipse cx="147.5" cy="459.0" rx="6.9" ry="7.9" fill="#e9eae7"/>
<circle cx="156.8" cy="455.2" r="6.9" fill="#e9eae7"/>
<circle cx="187.5" cy="461.4" r="7.9" fill="#e9eae7"/>
<ellipse cx="159.1" cy="470.6" rx="8.4" ry="7.9" fill="#e9eae7"/>
<ellipse cx="133.7" cy="479.1" rx="8.4" ry="6.9" transform="rotate(-30 133.7 479.1)" fill="#e9eae7"/>
<circle cx="177.5" cy="478.3" r="7.9" fill="#e9eae7"/>
<ellipse cx="159.8" cy="486.0" rx="8.4" ry="7.9" fill="#e9eae7"/>
<ellipse cx="137.5" cy="499.0" rx="8.4" ry="7.9" fill="#e9eae7"/>
<circle cx="184.5" cy="496.0" r="8.9" fill="#e9eae7"/>
<ellipse cx="161.0" cy="509.0" rx="9.4" ry="7.4" fill="#e9eae7"/>
<circle cx="47.3" cy="508.6" r="7.9" fill="#e9eae7"/>
<ellipse cx="67.0" cy="511.0" rx="7.9" ry="7.4" fill="#e9eae7"/>
<ellipse cx="87.8" cy="513.6" rx="8.4" ry="7.9" fill="#e9eae7"/>
<ellipse cx="107.8" cy="510.5" rx="7.9" ry="6.9" fill="#e9eae7"/>
<circle cx="47.0" cy="523.6" r="7.9" fill="#e9eae7"/>
<ellipse cx="64.7" cy="532.0" rx="7.9" ry="8.4" fill="#e9eae7"/>
<circle cx="80.8" cy="526.7" r="8.4" fill="#e9eae7"/>
<ellipse cx="103.2" cy="532.0" rx="7.9" ry="9.4" fill="#e9eae7"/>
<ellipse cx="117.5" cy="526.0" rx="6.9" ry="8.4" fill="#e9eae7"/>
<circle cx="38.5" cy="532.0" r="7.9" fill="#e9eae7"/>
<ellipse cx="45.5" cy="539.8" rx="8.4" ry="6.9" fill="#e9eae7"/>
<ellipse cx="89.3" cy="542.0" rx="7.9" ry="8.4" fill="#e9eae7"/>
<ellipse cx="63.9" cy="549.0" rx="9.4" ry="7.9" fill="#e9eae7"/>
<ellipse cx="47.8" cy="554.4" rx="9.4" ry="7.9" transform="rotate(30 47.8 554.4)" fill="#e9eae7"/>
<ellipse cx="40.0" cy="564.4" rx="6.9" ry="7.9" fill="#e9eae7"/>
<ellipse cx="77.8" cy="561.3" rx="8.4" ry="7.9" fill="#e9eae7"/>
<ellipse cx="108.5" cy="579.0" rx="7.9" ry="9.4" fill="#e9eae7"/>
<circle cx="95.5" cy="584.4" r="7.9" fill="#e9eae7"/>
<ellipse cx="68.5" cy="585.2" rx="8.4" ry="7.9" fill="#e9eae7"/>
<ellipse cx="45.5" cy="588.2" rx="8.4" ry="6.9" fill="#e9eae7"/>
<ellipse cx="37.0" cy="575.0" rx="5.9" ry="7.9" fill="#e9eae7"/>
<ellipse cx="132.9" cy="528.2" rx="6.9" ry="9.4" fill="#e9eae7"/>
<ellipse cx="144.5" cy="537.5" rx="6.9" ry="9.4" fill="#e9eae7"/>
<ellipse cx="159.1" cy="533.6" rx="7.9" ry="9.4" fill="#e9eae7"/>
<ellipse cx="176.8" cy="532.8" rx="8.4" ry="6.9" fill="#e9eae7"/>
<ellipse cx="191.4" cy="546.7" rx="5.9" ry="9.4" fill="#e9eae7"/>
<ellipse cx="159.8" cy="552.8" rx="7.9" ry="9.9" fill="#e9eae7"/>
<ellipse cx="179.1" cy="554.4" rx="6.9" ry="9.4" fill="#e9eae7"/>
<ellipse cx="141.4" cy="569.8" rx="7.9" ry="9.4" transform="rotate(30 141.4 569.8)" fill="#e9eae7"/>
<ellipse cx="123.7" cy="581.3" rx="7.9" ry="9.9" fill="#e9eae7"/>
<ellipse cx="136.8" cy="586.7" rx="8.4" ry="6.9" fill="#e9eae7"/>
<ellipse cx="172.2" cy="577.5" rx="8.4" ry="7.9" fill="#e9eae7"/>
<ellipse cx="186.8" cy="574.4" rx="6.9" ry="8.4" fill="#e9eae7"/>
<ellipse cx="166.8" cy="589.0" rx="7.9" ry="6.9" fill="#e9eae7"/>
<ellipse cx="192.9" cy="559.8" rx="5.9" ry="7.9" fill="#e9eae7"/>
<ellipse cx="76.2" cy="427.5" rx="7.0" ry="6.0" fill="url(#g0)"/>
<ellipse cx="108.5" cy="429.0" rx="7.0" ry="6.0" fill="url(#g0)"/>
<ellipse cx="84.7" cy="438.3" rx="7.0" ry="6.0" fill="url(#g0)"/>
<circle cx="57.8" cy="449.8" r="6.5" fill="url(#g0)"/>
<circle cx="56.9" cy="451.6" r="0.95" fill="#4f3a8a" opacity="0.9"/>
<circle cx="56.7" cy="448.3" r="0.95" fill="#4f3a8a" opacity="0.9"/>
<circle cx="55.2" cy="449.2" r="0.95" fill="#4f3a8a" opacity="0.9"/>
<circle cx="60.7" cy="450.9" r="0.95" fill="#4f3a8a" opacity="0.9"/>
<circle cx="73.9" cy="451.4" r="7.0" fill="url(#g0)"/>
<ellipse cx="98.5" cy="450.6" rx="7.0" ry="8.5" fill="url(#g0)"/>
<ellipse cx="116.0" cy="440.0" rx="7.0" ry="7.5" fill="url(#g0)"/>
<ellipse cx="39.3" cy="459.0" rx="7.0" ry="6.0" transform="rotate(-30 39.3 459.0)" fill="url(#g0)"/>
<ellipse cx="83.2" cy="463.0" rx="7.5" ry="7.0" fill="url(#g0)"/>
<ellipse cx="117.0" cy="453.0" rx="7.0" ry="6.5" fill="url(#g0)"/>
<ellipse cx="116.0" cy="466.0" rx="7.0" ry="6.5" fill="url(#g0)"/>
<ellipse cx="43.2" cy="473.7" rx="8.0" ry="6.0" transform="rotate(-20 43.2 473.7)" fill="url(#g0)"/>
<circle cx="63.2" cy="471.4" r="7.0" fill="url(#g0)"/>
<circle cx="101.6" cy="469.8" r="7.0" fill="url(#g0)"/>
<circle cx="97.8" cy="480.6" r="7.5" fill="url(#g0)"/>
<circle cx="100.0" cy="481.1" r="0.9" fill="#4f3a8a"/>
<circle cx="73.2" cy="485.2" r="7.0" fill="url(#g0)"/>
<ellipse cx="76.2" cy="496.0" rx="7.0" ry="6.5" fill="url(#g0)"/>
<circle cx="52.4" cy="493.7" r="7.0" fill="url(#g0)"/>
<circle cx="93.2" cy="496.0" r="7.0" fill="url(#g0)"/>
<circle cx="38.5" cy="495.2" r="7.0" fill="url(#g0)"/>
<circle cx="109.3" cy="499.8" r="7.0" fill="url(#g0)"/>
<circle cx="134.5" cy="439.1" r="7.5" fill="url(#g0)"/>
<ellipse cx="152.2" cy="430.6" rx="7.0" ry="5.5" fill="url(#g0)"/>
<ellipse cx="166.0" cy="434.5" rx="8.5" ry="7.0" fill="url(#g0)"/>
<ellipse cx="188.3" cy="441.4" rx="6.0" ry="7.5" fill="url(#g0)"/>
<ellipse cx="157.5" cy="447.5" rx="6.0" ry="5.5" fill="url(#g0)"/>
<circle cx="131.4" cy="459.8" r="6.2" fill="url(#g0)"/>
<circle cx="129.8" cy="460.5" r="0.95" fill="#4f3a8a" opacity="0.9"/>
<circle cx="133.7" cy="461.3" r="0.95" fill="#4f3a8a" opacity="0.9"/>
<circle cx="132.3" cy="458.1" r="0.95" fill="#4f3a8a" opacity="0.9"/>
<circle cx="132.0" cy="463.1" r="0.95" fill="#4f3a8a" opacity="0.9"/>
<ellipse cx="147.5" cy="459.0" rx="6.0" ry="7.0" fill="url(#g0)"/>
<circle cx="156.8" cy="455.2" r="6.0" fill="url(#g0)"/>
<circle cx="187.5" cy="461.4" r="7.0" fill="url(#g0)"/>
<ellipse cx="159.1" cy="470.6" rx="7.5" ry="7.0" fill="url(#g0)"/>
<ellipse cx="133.7" cy="479.1" rx="7.5" ry="6.0" transform="rotate(-30 133.7 479.1)" fill="url(#g0)"/>
<circle cx="177.5" cy="478.3" r="7.0" fill="url(#g0)"/>
<circle cx="179.5" cy="477.6" r="0.9" fill="#4f3a8a"/>
<ellipse cx="159.8" cy="486.0" rx="7.5" ry="7.0" fill="url(#g0)"/>
<ellipse cx="137.5" cy="499.0" rx="7.5" ry="7.0" fill="url(#g0)"/>
<circle cx="184.5" cy="496.0" r="8.0" fill="url(#g0)"/>
<ellipse cx="161.0" cy="509.0" rx="8.5" ry="6.5" fill="url(#g0)"/>
<circle cx="47.3" cy="508.6" r="7.0" fill="url(#g0)"/>
<ellipse cx="67.0" cy="511.0" rx="7.0" ry="6.5" fill="url(#g0)"/>
<ellipse cx="87.8" cy="513.6" rx="7.5" ry="7.0" fill="url(#g0)"/>
<ellipse cx="107.8" cy="510.5" rx="7.0" ry="6.0" fill="url(#g0)"/>
<circle cx="47.0" cy="523.6" r="7.0" fill="url(#g0)"/>
<circle cx="45.1" cy="522.6" r="0.9" fill="#4f3a8a"/>
<ellipse cx="64.7" cy="532.0" rx="7.0" ry="7.5" fill="url(#g0)"/>
<circle cx="80.8" cy="526.7" r="7.5" fill="url(#g0)"/>
<ellipse cx="103.2" cy="532.0" rx="7.0" ry="8.5" fill="url(#g0)"/>
<ellipse cx="117.5" cy="526.0" rx="6.0" ry="7.5" fill="url(#g0)"/>
<circle cx="38.5" cy="532.0" r="7.0" fill="url(#g0)"/>
<ellipse cx="45.5" cy="539.8" rx="7.5" ry="6.0" fill="url(#g0)"/>
<ellipse cx="89.3" cy="542.0" rx="7.0" ry="7.5" fill="url(#g0)"/>
<ellipse cx="63.9" cy="549.0" rx="8.5" ry="7.0" fill="url(#g0)"/>
<ellipse cx="47.8" cy="554.4" rx="8.5" ry="7.0" transform="rotate(30 47.8 554.4)" fill="url(#g0)"/>
<ellipse cx="40.0" cy="564.4" rx="6.0" ry="7.0" fill="url(#g0)"/>
<ellipse cx="77.8" cy="561.3" rx="7.5" ry="7.0" fill="url(#g0)"/>
<circle cx="74.0" cy="564.2" r="0.95" fill="#4f3a8a" opacity="0.9"/>
<circle cx="82.1" cy="562.6" r="0.95" fill="#4f3a8a" opacity="0.9"/>
<circle cx="77.3" cy="563.4" r="0.95" fill="#4f3a8a" opacity="0.9"/>
<circle cx="79.8" cy="563.1" r="0.95" fill="#4f3a8a" opacity="0.9"/>
<ellipse cx="108.5" cy="579.0" rx="7.0" ry="8.5" fill="url(#g0)"/>
<circle cx="95.5" cy="584.4" r="7.0" fill="url(#g0)"/>
<ellipse cx="68.5" cy="585.2" rx="7.5" ry="7.0" fill="url(#g0)"/>
<ellipse cx="45.5" cy="588.2" rx="7.5" ry="6.0" fill="url(#g0)"/>
<ellipse cx="37.0" cy="575.0" rx="5.0" ry="7.0" fill="url(#g0)"/>
<ellipse cx="132.9" cy="528.2" rx="6.0" ry="8.5" fill="url(#g0)"/>
<ellipse cx="144.5" cy="537.5" rx="6.0" ry="8.5" fill="url(#g0)"/>
<ellipse cx="159.1" cy="533.6" rx="7.0" ry="8.5" fill="url(#g0)"/>
<ellipse cx="176.8" cy="532.8" rx="7.5" ry="6.0" fill="url(#g0)"/>
<ellipse cx="191.4" cy="546.7" rx="5.0" ry="8.5" fill="url(#g0)"/>
<ellipse cx="159.8" cy="552.8" rx="7.0" ry="9.0" fill="url(#g0)"/>
<ellipse cx="179.1" cy="554.4" rx="6.0" ry="8.5" fill="url(#g0)"/>
<ellipse cx="141.4" cy="569.8" rx="7.0" ry="8.5" transform="rotate(30 141.4 569.8)" fill="url(#g0)"/>
<ellipse cx="123.7" cy="581.3" rx="7.0" ry="9.0" fill="url(#g0)"/>
<ellipse cx="136.8" cy="586.7" rx="7.5" ry="6.0" fill="url(#g0)"/>
<ellipse cx="172.2" cy="577.5" rx="7.5" ry="7.0" fill="url(#g0)"/>
<ellipse cx="186.8" cy="574.4" rx="6.0" ry="7.5" fill="url(#g0)"/>
<ellipse cx="166.8" cy="589.0" rx="7.0" ry="6.0" fill="url(#g0)"/>
<ellipse cx="192.9" cy="559.8" rx="5.0" ry="7.0" fill="url(#g0)"/>
<circle cx="52.4" cy="563.6" r="2.2" fill="#2a1e2e"/>
</g>
<g clip-path="url(#cp1)">
<rect x="196.4" y="426" width="160.6" height="166.6" fill="url(#bgg1)"/>
<circle cx="210.0" cy="429.9" r="7.9" fill="#e0e2df"/>
<circle cx="242.7" cy="433.8" r="7.9" fill="#e0e2df"/>
<circle cx="255.2" cy="426.8" r="7.9" fill="#e0e2df"/>
<circle cx="203.8" cy="445.5" r="7.9" fill="#e0e2df"/>
<circle cx="224.8" cy="441.6" r="7.9" fill="#e0e2df"/>
<circle cx="256.0" cy="449.4" r="8.4" fill="#e0e2df"/>
<circle cx="237.3" cy="456.4" r="8.4" fill="#e0e2df"/>
<ellipse cx="199.9" cy="469.6" rx="7.9" ry="7.9" transform="rotate(-30 199.9 469.6)" fill="#e0e2df"/>
<circle cx="222.5" cy="472.0" r="7.4" fill="#e0e2df"/>
<circle cx="257.5" cy="475.1" r="7.9" fill="#e0e2df"/>
<circle cx="273.0" cy="467.5" r="7.9" fill="#e0e2df"/>
<circle cx="245.8" cy="484.4" r="7.9" fill="#e0e2df"/>
<circle cx="215.5" cy="487.5" r="8.4" fill="#e0e2df"/>
<circle cx="229.5" cy="489.9" r="7.9" fill="#e0e2df"/>
<circle cx="273.0" cy="486.7" r="7.4" fill="#e0e2df"/>
<circle cx="199.9" cy="493.0" r="7.9" fill="#e0e2df"/>
<circle cx="238.8" cy="505.0" r="7.9" fill="#e0e2df"/>
<circle cx="252.5" cy="508.0" r="7.9" fill="#e0e2df"/>
<circle cx="207.3" cy="508.0" r="7.9" fill="#e0e2df"/>
<circle cx="298.1" cy="432.3" r="7.9" fill="#e0e2df"/>
<circle cx="326.5" cy="435.5" r="8.7" fill="#e0e2df"/>
<circle cx="272.0" cy="429.0" r="7.9" fill="#e0e2df"/>
<circle cx="290.2" cy="445.7" r="7.9" fill="#e0e2df"/>
<circle cx="277.7" cy="448.4" r="7.9" fill="#e0e2df"/>
<circle cx="313.1" cy="447.3" r="7.9" fill="#e0e2df"/>
<circle cx="354.9" cy="452.0" r="7.9" fill="#e0e2df"/>
<circle cx="303.6" cy="463.1" r="7.4" fill="#e0e2df"/>
<circle cx="320.2" cy="464.6" r="8.4" fill="#e0e2df"/>
<circle cx="344.6" cy="469.4" r="7.9" fill="#e0e2df"/>
<ellipse cx="300.4" cy="481.2" rx="7.9" ry="8.4" transform="rotate(30 300.4 481.2)" fill="#e0e2df"/>
<circle cx="336.7" cy="483.6" r="8.4" fill="#e0e2df"/>
<circle cx="353.3" cy="479.6" r="7.9" fill="#e0e2df"/>
<circle cx="320.2" cy="495.4" r="7.9" fill="#e0e2df"/>
<circle cx="291.0" cy="500.1" r="7.9" fill="#e0e2df"/>
<circle cx="339.9" cy="500.9" r="7.9" fill="#e0e2df"/>
<circle cx="278.5" cy="509.0" r="7.9" fill="#e0e2df"/>
<circle cx="325.3" cy="510.0" r="7.9" fill="#e0e2df"/>
<circle cx="251.3" cy="528.5" r="8.7" fill="#e0e2df"/>
<circle cx="206.1" cy="552.6" r="7.9" fill="#e0e2df"/>
<circle cx="238.8" cy="549.5" r="7.9" fill="#e0e2df"/>
<circle cx="260.6" cy="560.4" r="8.4" fill="#e0e2df"/>
<circle cx="236.5" cy="565.9" r="8.4" fill="#e0e2df"/>
<circle cx="206.1" cy="568.2" r="7.9" fill="#e0e2df"/>
<circle cx="205.3" cy="580.7" r="7.4" fill="#e0e2df"/>
<circle cx="220.9" cy="586.9" r="7.9" fill="#e0e2df"/>
<circle cx="238.1" cy="586.9" r="7.9" fill="#e0e2df"/>
<circle cx="285.5" cy="520.0" r="8.4" fill="#e0e2df"/>
<circle cx="306.8" cy="518.5" r="8.7" fill="#e0e2df"/>
<circle cx="339.9" cy="520.0" r="8.4" fill="#e0e2df"/>
<circle cx="354.9" cy="516.1" r="7.9" fill="#e0e2df"/>
<circle cx="304.4" cy="536.6" r="7.9" fill="#e0e2df"/>
<circle cx="291.8" cy="544.5" r="7.9" fill="#e0e2df"/>
<circle cx="339.9" cy="538.2" r="8.4" fill="#e0e2df"/>
<circle cx="351.7" cy="542.9" r="7.1" fill="#e0e2df"/>
<circle cx="275.0" cy="554.5" r="7.9" fill="#e0e2df"/>
<circle cx="306.0" cy="555.5" r="8.4" fill="#e0e2df"/>
<circle cx="350.9" cy="559.5" r="8.4" fill="#e0e2df"/>
<circle cx="289.4" cy="565.8" r="7.9" fill="#e0e2df"/>
<circle cx="306.0" cy="573.7" r="7.9" fill="#e0e2df"/>
<circle cx="318.6" cy="582.3" r="7.9" fill="#e0e2df"/>
<circle cx="339.1" cy="583.9" r="7.9" fill="#e0e2df"/>
<circle cx="350.9" cy="578.4" r="7.1" fill="#e0e2df"/>
<circle cx="293.4" cy="587.1" r="7.9" fill="#e0e2df"/>
<circle cx="279.2" cy="589.4" r="7.9" fill="#e0e2df"/>
<circle cx="210.0" cy="429.9" r="7.0" fill="url(#g1)"/>
<circle cx="242.7" cy="433.8" r="7.0" fill="url(#g1)"/>
<circle cx="255.2" cy="426.8" r="7.0" fill="url(#g1)"/>
<circle cx="203.8" cy="445.5" r="7.0" fill="url(#g1)"/>
<circle cx="224.8" cy="441.6" r="7.0" fill="url(#g1)"/>
<circle cx="256.0" cy="449.4" r="7.5" fill="url(#g1)"/>
<circle cx="237.3" cy="456.4" r="7.5" fill="url(#g1)"/>
<ellipse cx="199.9" cy="469.6" rx="7.0" ry="7.0" transform="rotate(-30 199.9 469.6)" fill="url(#g1)"/>
<circle cx="222.5" cy="472.0" r="6.5" fill="url(#g1)"/>
<circle cx="257.5" cy="475.1" r="7.0" fill="url(#g1)"/>
<circle cx="273.0" cy="467.5" r="7.0" fill="url(#g1)"/>
<circle cx="245.8" cy="484.4" r="7.0" fill="url(#g1)"/>
<circle cx="215.5" cy="487.5" r="7.5" fill="url(#g1)"/>
<circle cx="229.5" cy="489.9" r="7.0" fill="url(#g1)"/>
<circle cx="273.0" cy="486.7" r="6.5" fill="url(#g1)"/>
<circle cx="199.9" cy="493.0" r="7.0" fill="url(#g1)"/>
<circle cx="238.8" cy="505.0" r="7.0" fill="url(#g1)"/>
<circle cx="252.5" cy="508.0" r="7.0" fill="url(#g1)"/>
<circle cx="207.3" cy="508.0" r="7.0" fill="url(#g1)"/>
<circle cx="298.1" cy="432.3" r="7.0" fill="url(#g1)"/>
<circle cx="326.5" cy="435.5" r="7.8" fill="url(#g1)"/>
<circle cx="272.0" cy="429.0" r="7.0" fill="url(#g1)"/>
<circle cx="290.2" cy="445.7" r="7.0" fill="url(#g1)"/>
<circle cx="277.7" cy="448.4" r="7.0" fill="url(#g1)"/>
<circle cx="313.1" cy="447.3" r="7.0" fill="url(#g1)"/>
<circle cx="354.9" cy="452.0" r="7.0" fill="url(#g1)"/>
<circle cx="303.6" cy="463.1" r="6.5" fill="url(#g1)"/>
<circle cx="320.2" cy="464.6" r="7.5" fill="url(#g1)"/>
<circle cx="344.6" cy="469.4" r="7.0" fill="url(#g1)"/>
<ellipse cx="300.4" cy="481.2" rx="7.0" ry="7.5" transform="rotate(30 300.4 481.2)" fill="url(#g1)"/>
<circle cx="336.7" cy="483.6" r="7.5" fill="url(#g1)"/>
<circle cx="353.3" cy="479.6" r="7.0" fill="url(#g1)"/>
<circle cx="320.2" cy="495.4" r="7.0" fill="url(#g1)"/>
<circle cx="291.0" cy="500.1" r="7.0" fill="url(#g1)"/>
<circle cx="339.9" cy="500.9" r="7.0" fill="url(#g1)"/>
<circle cx="278.5" cy="509.0" r="7.0" fill="url(#g1)"/>
<circle cx="278.5" cy="509.0" r="1.6" fill="none" stroke="#6a5694" stroke-width="0.7"/>
<circle cx="325.3" cy="510.0" r="7.0" fill="url(#g1)"/>
<circle cx="251.3" cy="528.5" r="7.8" fill="url(#g1)"/>
<circle cx="206.1" cy="552.6" r="7.0" fill="url(#g1)"/>
<circle cx="238.8" cy="549.5" r="7.0" fill="url(#g1)"/>
<circle cx="238.8" cy="549.5" r="1.6" fill="none" stroke="#6a5694" stroke-width="0.7"/>
<circle cx="260.6" cy="560.4" r="7.5" fill="url(#g1)"/>
<circle cx="236.5" cy="565.9" r="7.5" fill="url(#g1)"/>
<circle cx="206.1" cy="568.2" r="7.0" fill="url(#g1)"/>
<circle cx="205.3" cy="580.7" r="6.5" fill="url(#g1)"/>
<circle cx="220.9" cy="586.9" r="7.0" fill="url(#g1)"/>
<circle cx="238.1" cy="586.9" r="7.0" fill="url(#g1)"/>
<circle cx="285.5" cy="520.0" r="7.5" fill="url(#g1)"/>
<circle cx="306.8" cy="518.5" r="7.8" fill="url(#g1)"/>
<circle cx="339.9" cy="520.0" r="7.5" fill="url(#g1)"/>
<circle cx="354.9" cy="516.1" r="7.0" fill="url(#g1)"/>
<circle cx="304.4" cy="536.6" r="7.0" fill="url(#g1)"/>
<circle cx="291.8" cy="544.5" r="7.0" fill="url(#g1)"/>
<circle cx="339.9" cy="538.2" r="7.5" fill="url(#g1)"/>
<circle cx="351.7" cy="542.9" r="6.2" fill="url(#g1)"/>
<circle cx="275.0" cy="554.5" r="7.0" fill="url(#g1)"/>
<circle cx="306.0" cy="555.5" r="7.5" fill="url(#g1)"/>
<path d="M304.5,552.5 L307.5,558.5" stroke="#4f3a8a" stroke-width="1.1" stroke-linecap="round"/>
<circle cx="350.9" cy="559.5" r="7.5" fill="url(#g1)"/>
<circle cx="289.4" cy="565.8" r="7.0" fill="url(#g1)"/>
<circle cx="306.0" cy="573.7" r="7.0" fill="url(#g1)"/>
<circle cx="306.8" cy="571.8" r="0.9" fill="#4f3a8a"/>
<circle cx="318.6" cy="582.3" r="7.0" fill="url(#g1)"/>
<path d="M317.1,579.3 L320.1,585.3" stroke="#4f3a8a" stroke-width="1.1" stroke-linecap="round"/>
<circle cx="339.1" cy="583.9" r="7.0" fill="url(#g1)"/>
<circle cx="350.9" cy="578.4" r="6.2" fill="url(#g1)"/>
<circle cx="293.4" cy="587.1" r="7.0" fill="url(#g1)"/>
<circle cx="279.2" cy="589.4" r="7.0" fill="url(#g1)"/>
<ellipse cx="228.7" cy="581.4" rx="4" ry="4.8" fill="#a898cc"/>
<circle cx="227.1" cy="579.9" r="1.5" fill="#3a2878"/>
<circle cx="229.89999999999998" cy="580.9" r="1.6" fill="#3a2878"/>
<circle cx="228.1" cy="583.0" r="1.5" fill="#3a2878"/>
<circle cx="230.1" cy="583.6" r="1.2" fill="#3a2878"/>
<circle cx="228.7" cy="578.4" r="1.1" fill="#3a2878"/>
<circle cx="324.9" cy="536.6" r="0.9" fill="#4f3a8a" opacity="0.8"/>
</g>
<g clip-path="url(#cp2)">
<rect x="357.4" y="426" width="162.6" height="166.6" fill="#d9dbd9"/>
<ellipse cx="389.9" cy="433.8" rx="7.4" ry="8.9" fill="#e2e3e1"/>
<ellipse cx="411.7" cy="434.6" rx="10.9" ry="6.4" transform="rotate(15 411.7 434.6)" fill="#e2e3e1"/>
<ellipse cx="383.7" cy="446.2" rx="9.4" ry="7.9" fill="#e2e3e1"/>
<ellipse cx="410.2" cy="455.6" rx="8.9" ry="6.4" fill="#e2e3e1"/>
<circle cx="432.0" cy="457.9" r="7.9" fill="#e2e3e1"/>
<ellipse cx="385.3" cy="464.2" rx="9.4" ry="7.9" transform="rotate(30 385.3 464.2)" fill="#e2e3e1"/>
<circle cx="404.7" cy="472.7" r="9.4" fill="#e2e3e1"/>
<circle cx="396.9" cy="487.5" r="8.4" fill="#e2e3e1"/>
<circle cx="415.6" cy="486.7" r="8.4" fill="#e2e3e1"/>
<circle cx="359.6" cy="502.3" r="7.9" fill="#e2e3e1"/>
<circle cx="421.0" cy="506.0" r="8.4" fill="#e2e3e1"/>
<circle cx="461.7" cy="434.7" r="7.9" fill="#e2e3e1"/>
<circle cx="478.2" cy="431.5" r="8.7" fill="#e2e3e1"/>
<circle cx="510.6" cy="435.5" r="8.4" fill="#e2e3e1"/>
<circle cx="451.4" cy="445.7" r="8.4" fill="#e2e3e1"/>
<circle cx="473.5" cy="455.2" r="8.7" fill="#e2e3e1"/>
<circle cx="488.5" cy="453.6" r="7.9" fill="#e2e3e1"/>
<ellipse cx="499.5" cy="463.9" rx="7.9" ry="10.4" transform="rotate(-30 499.5 463.9)" fill="#e2e3e1"/>
<circle cx="450.6" cy="469.4" r="8.4" fill="#e2e3e1"/>
<circle cx="481.4" cy="473.3" r="8.4" fill="#e2e3e1"/>
<circle cx="443.5" cy="484.4" r="8.7" fill="#e2e3e1"/>
<ellipse cx="464.0" cy="490.7" rx="9.4" ry="6.4" fill="#e2e3e1"/>
<circle cx="513.7" cy="484.4" r="7.9" fill="#e2e3e1"/>
<circle cx="502.7" cy="496.2" r="7.9" fill="#e2e3e1"/>
<circle cx="485.3" cy="499.3" r="7.1" fill="#e2e3e1"/>
<circle cx="445.1" cy="503.3" r="8.4" fill="#e2e3e1"/>
<circle cx="403.9" cy="516.8" r="7.9" fill="#e2e3e1"/>
<circle cx="362.7" cy="523.0" r="7.9" fill="#e2e3e1"/>
<ellipse cx="389.2" cy="526.9" rx="8.4" ry="7.1" fill="#e2e3e1"/>
<circle cx="386.0" cy="541.7" r="8.7" fill="#e2e3e1"/>
<ellipse cx="419.5" cy="544.8" rx="10.9" ry="7.9" fill="#e2e3e1"/>
<circle cx="440.0" cy="520.0" r="7.9" fill="#e2e3e1"/>
<ellipse cx="370.5" cy="551.1" rx="7.1" ry="8.7" fill="#e2e3e1"/>
<circle cx="385.3" cy="558.8" r="7.9" fill="#e2e3e1"/>
<ellipse cx="411.0" cy="565.9" rx="10.9" ry="8.9" fill="#e2e3e1"/>
<circle cx="372.8" cy="569.0" r="7.9" fill="#e2e3e1"/>
<circle cx="359.6" cy="569.7" r="7.9" fill="#e2e3e1"/>
<circle cx="428.1" cy="581.4" r="7.4" fill="#e2e3e1"/>
<ellipse cx="404.7" cy="588.4" rx="9.9" ry="5.9" fill="#e2e3e1"/>
<circle cx="454.6" cy="516.9" r="7.9" fill="#e2e3e1"/>
<circle cx="472.7" cy="515.3" r="8.4" fill="#e2e3e1"/>
<circle cx="498.7" cy="513.7" r="7.9" fill="#e2e3e1"/>
<circle cx="492.4" cy="528.7" r="7.9" fill="#e2e3e1"/>
<circle cx="476.6" cy="538.2" r="8.4" fill="#e2e3e1"/>
<circle cx="445.1" cy="556.3" r="7.9" fill="#e2e3e1"/>
<circle cx="486.9" cy="555.5" r="7.9" fill="#e2e3e1"/>
<circle cx="474.3" cy="587.9" r="8.4" fill="#e2e3e1"/>
<circle cx="518.4" cy="576.8" r="7.9" fill="#e2e3e1"/>
<ellipse cx="389.9" cy="433.8" rx="6.5" ry="8.0" fill="url(#g2)"/>
<ellipse cx="411.7" cy="434.6" rx="10.0" ry="5.5" transform="rotate(15 411.7 434.6)" fill="url(#g2)"/>
<ellipse cx="383.7" cy="446.2" rx="8.5" ry="7.0" fill="url(#g2)"/>
<ellipse cx="410.2" cy="455.6" rx="8.0" ry="5.5" fill="url(#g2)"/>
<circle cx="432.0" cy="457.9" r="7.0" fill="url(#g2)"/>
<ellipse cx="385.3" cy="464.2" rx="8.5" ry="7.0" transform="rotate(30 385.3 464.2)" fill="url(#g2)"/>
<circle cx="404.7" cy="472.7" r="8.5" fill="url(#g2)"/>
<circle cx="396.9" cy="487.5" r="7.5" fill="url(#g2)"/>
<circle cx="415.6" cy="486.7" r="7.5" fill="url(#g2)"/>
<circle cx="359.6" cy="502.3" r="7.0" fill="url(#g2)"/>
<circle cx="421.0" cy="506.0" r="7.5" fill="url(#g2)"/>
<circle cx="461.7" cy="434.7" r="7.0" fill="url(#g2)"/>
<circle cx="462.6" cy="436.6" r="0.9" fill="#4f3a8a"/>
<circle cx="478.2" cy="431.5" r="7.8" fill="url(#g2)"/>
<circle cx="510.6" cy="435.5" r="7.5" fill="url(#g2)"/>
<circle cx="451.4" cy="445.7" r="7.5" fill="url(#g2)"/>
<circle cx="473.5" cy="455.2" r="7.8" fill="url(#g2)"/>
<circle cx="488.5" cy="453.6" r="7.0" fill="url(#g2)"/>
<ellipse cx="499.5" cy="463.9" rx="7.0" ry="9.5" transform="rotate(-30 499.5 463.9)" fill="url(#g2)"/>
<circle cx="450.6" cy="469.4" r="7.5" fill="url(#g2)"/>
<circle cx="481.4" cy="473.3" r="7.5" fill="url(#g2)"/>
<circle cx="443.5" cy="484.4" r="7.8" fill="url(#g2)"/>
<ellipse cx="464.0" cy="490.7" rx="8.5" ry="5.5" fill="url(#g2)"/>
<circle cx="513.7" cy="484.4" r="7.0" fill="url(#g2)"/>
<circle cx="502.7" cy="496.2" r="7.0" fill="url(#g2)"/>
<circle cx="485.3" cy="499.3" r="6.2" fill="url(#g2)"/>
<circle cx="483.7" cy="498.4" r="0.9" fill="#4f3a8a"/>
<circle cx="445.1" cy="503.3" r="7.5" fill="url(#g2)"/>
<circle cx="403.9" cy="516.8" r="7.0" fill="url(#g2)"/>
<circle cx="362.7" cy="523.0" r="7.0" fill="url(#g2)"/>
<ellipse cx="389.2" cy="526.9" rx="7.5" ry="6.2" fill="url(#g2)"/>
<circle cx="386.0" cy="541.7" r="7.8" fill="url(#g2)"/>
<ellipse cx="419.5" cy="544.8" rx="10.0" ry="7.0" fill="url(#g2)"/>
<circle cx="440.0" cy="520.0" r="7.0" fill="url(#g2)"/>
<ellipse cx="370.5" cy="551.1" rx="6.2" ry="7.8" fill="url(#g2)"/>
<circle cx="385.3" cy="558.8" r="7.0" fill="url(#g2)"/>
<ellipse cx="411.0" cy="565.9" rx="10.0" ry="8.0" fill="url(#g2)"/>
<circle cx="372.8" cy="569.0" r="7.0" fill="url(#g2)"/>
<circle cx="359.6" cy="569.7" r="7.0" fill="url(#g2)"/>
<circle cx="428.1" cy="581.4" r="6.5" fill="url(#g2)"/>
<circle cx="426.4" cy="579.3" r="0.95" fill="#4f3a8a" opacity="0.9"/>
<circle cx="426.4" cy="580.9" r="0.95" fill="#4f3a8a" opacity="0.9"/>
<circle cx="430.2" cy="582.2" r="0.95" fill="#4f3a8a" opacity="0.9"/>
<circle cx="426.9" cy="578.8" r="0.95" fill="#4f3a8a" opacity="0.9"/>
<ellipse cx="404.7" cy="588.4" rx="9.0" ry="5.0" fill="url(#g2)"/>
<circle cx="454.6" cy="516.9" r="7.0" fill="url(#g2)"/>
<circle cx="472.7" cy="515.3" r="7.5" fill="url(#g2)"/>
<circle cx="471.8" cy="517.4" r="0.9" fill="#4f3a8a"/>
<circle cx="498.7" cy="513.7" r="7.0" fill="url(#g2)"/>
<circle cx="496.9" cy="512.6" r="0.9" fill="#4f3a8a"/>
<circle cx="492.4" cy="528.7" r="7.0" fill="url(#g2)"/>
<circle cx="490.4" cy="529.3" r="0.9" fill="#4f3a8a"/>
<circle cx="476.6" cy="538.2" r="7.5" fill="url(#g2)"/>
<circle cx="445.1" cy="556.3" r="7.0" fill="url(#g2)"/>
<circle cx="486.9" cy="555.5" r="7.0" fill="url(#g2)"/>
<circle cx="474.3" cy="587.9" r="7.5" fill="url(#g2)"/>
<circle cx="518.4" cy="576.8" r="7.0" fill="url(#g2)"/>
<circle cx="460.9" cy="539.8" r="4" fill="#d2c8d2" opacity="0.7"/>
</g>
<g clip-path="url(#cp3)">
<rect x="37" y="593.4" width="158.6" height="166.6" fill="#d5d6d6"/>
<circle cx="49.3" cy="599.2" r="7.9" fill="#e6e7e5"/>
<circle cx="63.9" cy="606.8" r="7.9" fill="#e6e7e5"/>
<circle cx="50.1" cy="616.1" r="7.9" fill="#e6e7e5"/>
<circle cx="70.1" cy="618.4" r="8.7" fill="#e6e7e5"/>
<circle cx="100.8" cy="600.7" r="6.9" fill="#e6e7e5"/>
<circle cx="95.5" cy="623.0" r="7.9" fill="#e6e7e5"/>
<circle cx="115.5" cy="632.2" r="7.9" fill="#e6e7e5"/>
<circle cx="67.0" cy="632.2" r="7.9" fill="#e6e7e5"/>
<circle cx="44.7" cy="638.4" r="7.9" fill="#e6e7e5"/>
<circle cx="77.0" cy="643.0" r="7.1" fill="#e6e7e5"/>
<circle cx="94.7" cy="642.2" r="7.9" fill="#e6e7e5"/>
<circle cx="58.5" cy="649.2" r="7.9" fill="#e6e7e5"/>
<circle cx="58.5" cy="663.0" r="7.9" fill="#e6e7e5"/>
<circle cx="70.8" cy="669.9" r="7.9" fill="#e6e7e5"/>
<circle cx="98.5" cy="665.3" r="7.9" fill="#e6e7e5"/>
<circle cx="43.2" cy="677.0" r="7.9" fill="#e6e7e5"/>
<circle cx="80.0" cy="677.0" r="7.9" fill="#e6e7e5"/>
<circle cx="139.8" cy="598.4" r="7.9" fill="#e6e7e5"/>
<circle cx="171.4" cy="596.1" r="7.9" fill="#e6e7e5"/>
<circle cx="190.6" cy="594.5" r="7.9" fill="#e6e7e5"/>
<circle cx="132.2" cy="629.9" r="7.9" fill="#e6e7e5"/>
<ellipse cx="154.5" cy="629.2" rx="7.9" ry="9.9" fill="#e6e7e5"/>
<circle cx="165.2" cy="623.8" r="7.9" fill="#e6e7e5"/>
<circle cx="180.6" cy="629.2" r="7.9" fill="#e6e7e5"/>
<circle cx="143.7" cy="638.4" r="7.9" fill="#e6e7e5"/>
<circle cx="170.6" cy="639.9" r="7.9" fill="#e6e7e5"/>
<circle cx="129.8" cy="646.1" r="7.9" fill="#e6e7e5"/>
<circle cx="192.9" cy="640.7" r="7.9" fill="#e6e7e5"/>
<circle cx="125.2" cy="659.2" r="7.9" fill="#e6e7e5"/>
<circle cx="146.0" cy="662.2" r="7.9" fill="#e6e7e5"/>
<circle cx="160.6" cy="661.5" r="7.9" fill="#e6e7e5"/>
<circle cx="188.3" cy="656.1" r="7.9" fill="#e6e7e5"/>
<circle cx="134.5" cy="677.0" r="7.9" fill="#e6e7e5"/>
<circle cx="148.3" cy="676.5" r="7.9" fill="#e6e7e5"/>
<circle cx="180.0" cy="676.0" r="7.9" fill="#e6e7e5"/>
<circle cx="119.0" cy="678.0" r="7.9" fill="#e6e7e5"/>
<circle cx="60.8" cy="685.2" r="7.9" fill="#e6e7e5"/>
<circle cx="90.1" cy="682.2" r="7.9" fill="#e6e7e5"/>
<circle cx="100.1" cy="691.4" r="7.9" fill="#e6e7e5"/>
<circle cx="112.4" cy="687.5" r="7.9" fill="#e6e7e5"/>
<circle cx="38.5" cy="725.2" r="7.9" fill="#e6e7e5"/>
<circle cx="46.2" cy="740.6" r="7.1" fill="#e6e7e5"/>
<circle cx="59.3" cy="738.3" r="7.4" fill="#e6e7e5"/>
<circle cx="73.9" cy="734.5" r="7.4" fill="#e6e7e5"/>
<circle cx="88.5" cy="739.1" r="7.1" fill="#e6e7e5"/>
<circle cx="106.2" cy="748.3" r="7.9" fill="#e6e7e5"/>
<ellipse cx="39.3" cy="743.7" rx="5.9" ry="6.9" fill="#e6e7e5"/>
<circle cx="47.8" cy="756.8" r="7.9" fill="#e6e7e5"/>
<circle cx="67.0" cy="759.0" r="7.9" fill="#e6e7e5"/>
<circle cx="163.7" cy="679.1" r="7.9" fill="#e6e7e5"/>
<circle cx="154.5" cy="690.6" r="7.1" fill="#e6e7e5"/>
<circle cx="176.0" cy="699.1" r="7.9" fill="#e6e7e5"/>
<circle cx="165.2" cy="707.5" r="7.9" fill="#e6e7e5"/>
<circle cx="132.9" cy="721.4" r="7.9" fill="#e6e7e5"/>
<circle cx="148.3" cy="719.8" r="7.9" fill="#e6e7e5"/>
<circle cx="163.7" cy="722.2" r="7.4" fill="#e6e7e5"/>
<circle cx="121.4" cy="730.6" r="7.9" fill="#e6e7e5"/>
<circle cx="175.2" cy="740.6" r="7.9" fill="#e6e7e5"/>
<ellipse cx="191.4" cy="734.5" rx="6.9" ry="7.9" fill="#e6e7e5"/>
<ellipse cx="189.8" cy="751.4" rx="6.9" ry="7.9" fill="#e6e7e5"/>
<circle cx="49.3" cy="599.2" r="7.0" fill="url(#g3)"/>
<circle cx="48.7" cy="601.2" r="0.9" fill="#4f3a8a"/>
<circle cx="63.9" cy="606.8" r="7.0" fill="url(#g3)"/>
<circle cx="64.5" cy="604.8" r="0.9" fill="#4f3a8a"/>
<circle cx="50.1" cy="616.1" r="7.0" fill="url(#g3)"/>
<circle cx="49.3" cy="613.7" r="1.1" fill="#4f3a8a" opacity="0.9"/>
<circle cx="47.1" cy="614.6" r="1.1" fill="#4f3a8a" opacity="0.9"/>
<circle cx="53.0" cy="613.2" r="1.1" fill="#4f3a8a" opacity="0.9"/>
<circle cx="49.0" cy="620.8" r="1.1" fill="#4f3a8a" opacity="0.9"/>
<circle cx="52.4" cy="618.2" r="1.1" fill="#4f3a8a" opacity="0.9"/>
<circle cx="70.1" cy="618.4" r="7.8" fill="url(#g3)"/>
<circle cx="100.8" cy="600.7" r="6.0" fill="url(#gi3)"/>
<circle cx="100.9" cy="598.8" r="1.1" fill="#4f3a8a" opacity="0.9"/>
<circle cx="99.2" cy="600.8" r="1.1" fill="#4f3a8a" opacity="0.9"/>
<circle cx="99.0" cy="597.6" r="1.1" fill="#4f3a8a" opacity="0.9"/>
<circle cx="97.3" cy="599.0" r="1.1" fill="#4f3a8a" opacity="0.9"/>
<circle cx="99.5" cy="603.8" r="1.1" fill="#4f3a8a" opacity="0.9"/>
<circle cx="98.3" cy="599.0" r="1.1" fill="#4f3a8a" opacity="0.9"/>
<circle cx="97.2" cy="601.7" r="1.1" fill="#4f3a8a" opacity="0.9"/>
<circle cx="103.4" cy="599.8" r="1.1" fill="#4f3a8a" opacity="0.9"/>
<circle cx="99.9" cy="599.3" r="1.1" fill="#4f3a8a" opacity="0.9"/>
<circle cx="95.5" cy="623.0" r="7.0" fill="url(#g3)"/>
<circle cx="115.5" cy="632.2" r="7.0" fill="url(#g3)"/>
<circle cx="67.0" cy="632.2" r="7.0" fill="url(#g3)"/>
<circle cx="65.9" cy="628.6" r="1.1" fill="#4f3a8a" opacity="0.9"/>
<circle cx="71.3" cy="632.0" r="1.1" fill="#4f3a8a" opacity="0.9"/>
<circle cx="66.4" cy="635.1" r="1.1" fill="#4f3a8a" opacity="0.9"/>
<circle cx="66.1" cy="630.6" r="1.1" fill="#4f3a8a" opacity="0.9"/>
<circle cx="64.8" cy="632.7" r="1.1" fill="#4f3a8a" opacity="0.9"/>
<circle cx="44.7" cy="638.4" r="7.0" fill="url(#g3)"/>
<circle cx="46.3" cy="639.8" r="0.9" fill="#4f3a8a"/>
<circle cx="77.0" cy="643.0" r="6.2" fill="url(#g3)"/>
<circle cx="80.4" cy="644.3" r="1.1" fill="#4f3a8a" opacity="0.9"/>
<circle cx="78.5" cy="644.6" r="1.1" fill="#4f3a8a" opacity="0.9"/>
<circle cx="73.9" cy="645.5" r="1.1" fill="#4f3a8a" opacity="0.9"/>
<circle cx="79.5" cy="644.4" r="1.1" fill="#4f3a8a" opacity="0.9"/>
<circle cx="73.2" cy="641.8" r="1.1" fill="#4f3a8a" opacity="0.9"/>
<circle cx="94.7" cy="642.2" r="7.0" fill="url(#g3)"/>
<circle cx="96.6" cy="638.1" r="1.1" fill="#4f3a8a" opacity="0.9"/>
<circle cx="94.2" cy="645.2" r="1.1" fill="#4f3a8a" opacity="0.9"/>
<circle cx="91.8" cy="645.7" r="1.1" fill="#4f3a8a" opacity="0.9"/>
<circle cx="96.8" cy="641.6" r="1.1" fill="#4f3a8a" opacity="0.9"/>
<circle cx="95.8" cy="644.4" r="1.1" fill="#4f3a8a" opacity="0.9"/>
<circle cx="58.5" cy="649.2" r="7.0" fill="url(#g3)"/>
<circle cx="58.5" cy="663.0" r="7.0" fill="url(#g3)"/>
<circle cx="70.8" cy="669.9" r="7.0" fill="url(#g3)"/>
<circle cx="98.5" cy="665.3" r="7.0" fill="url(#g3)"/>
<circle cx="98.7" cy="667.4" r="0.9" fill="#4f3a8a"/>
<circle cx="43.2" cy="677.0" r="7.0" fill="url(#g3)"/>
<circle cx="39.6" cy="677.3" r="1.1" fill="#4f3a8a" opacity="0.9"/>
<circle cx="43.1" cy="678.8" r="1.1" fill="#4f3a8a" opacity="0.9"/>
<circle cx="40.7" cy="678.4" r="1.1" fill="#4f3a8a" opacity="0.9"/>
<circle cx="38.9" cy="675.1" r="1.1" fill="#4f3a8a" opacity="0.9"/>
<circle cx="42.0" cy="673.9" r="1.1" fill="#4f3a8a" opacity="0.9"/>
<circle cx="80.0" cy="677.0" r="7.0" fill="url(#g3)"/>
<circle cx="77.1" cy="674.4" r="1.1" fill="#4f3a8a" opacity="0.9"/>
<circle cx="84.3" cy="678.5" r="1.1" fill="#4f3a8a" opacity="0.9"/>
<circle cx="80.8" cy="672.6" r="1.1" fill="#4f3a8a" opacity="0.9"/>
<circle cx="80.9" cy="674.1" r="1.1" fill="#4f3a8a" opacity="0.9"/>
<circle cx="78.3" cy="678.2" r="1.1" fill="#4f3a8a" opacity="0.9"/>
<circle cx="139.8" cy="598.4" r="7.0" fill="url(#gi3)"/>
<circle cx="138.5" cy="596.9" r="1.1" fill="#4f3a8a" opacity="0.9"/>
<circle cx="142.0" cy="599.4" r="1.1" fill="#4f3a8a" opacity="0.9"/>
<circle cx="141.3" cy="600.8" r="1.1" fill="#4f3a8a" opacity="0.9"/>
<circle cx="141.5" cy="599.0" r="1.1" fill="#4f3a8a" opacity="0.9"/>
<circle cx="141.0" cy="600.1" r="1.1" fill="#4f3a8a" opacity="0.9"/>
<circle cx="138.6" cy="599.8" r="1.1" fill="#4f3a8a" opacity="0.9"/>
<circle cx="142.4" cy="595.8" r="1.1" fill="#4f3a8a" opacity="0.9"/>
<circle cx="141.3" cy="600.4" r="1.1" fill="#4f3a8a" opacity="0.9"/>
<circle cx="138.1" cy="600.8" r="1.1" fill="#4f3a8a" opacity="0.9"/>
<circle cx="171.4" cy="596.1" r="7.0" fill="url(#g3)"/>
<circle cx="190.6" cy="594.5" r="7.0" fill="url(#g3)"/>
<circle cx="132.2" cy="629.9" r="7.0" fill="url(#g3)"/>
<ellipse cx="154.5" cy="629.2" rx="7.0" ry="9.0" fill="url(#g3)"/>
<circle cx="165.2" cy="623.8" r="7.0" fill="url(#g3)"/>
<circle cx="180.6" cy="629.2" r="7.0" fill="url(#g3)"/>
<circle cx="183.8" cy="632.3" r="1.1" fill="#4f3a8a" opacity="0.9"/>
<circle cx="183.8" cy="629.1" r="1.1" fill="#4f3a8a" opacity="0.9"/>
<circle cx="178.6" cy="629.4" r="1.1" fill="#4f3a8a" opacity="0.9"/>
<circle cx="182.9" cy="630.9" r="1.1" fill="#4f3a8a" opacity="0.9"/>
<circle cx="180.2" cy="633.5" r="1.1" fill="#4f3a8a" opacity="0.9"/>
<circle cx="143.7" cy="638.4" r="7.0" fill="url(#g3)"/>
<circle cx="144.7" cy="639.9" r="1.1" fill="#4f3a8a" opacity="0.9"/>
<circle cx="147.0" cy="637.4" r="1.1" fill="#4f3a8a" opacity="0.9"/>
<circle cx="145.8" cy="641.2" r="1.1" fill="#4f3a8a" opacity="0.9"/>
<circle cx="147.1" cy="639.0" r="1.1" fill="#4f3a8a" opacity="0.9"/>
<circle cx="148.1" cy="637.8" r="1.1" fill="#4f3a8a" opacity="0.9"/>
<circle cx="170.6" cy="639.9" r="7.0" fill="url(#g3)"/>
<circle cx="129.8" cy="646.1" r="7.0" fill="url(#g3)"/>
<circle cx="192.9" cy="640.7" r="7.0" fill="url(#g3)"/>
<circle cx="125.2" cy="659.2" r="7.0" fill="url(#gi3)"/>
<circle cx="124.3" cy="656.8" r="1.1" fill="#4f3a8a" opacity="0.9"/>
<circle cx="123.7" cy="660.9" r="1.1" fill="#4f3a8a" opacity="0.9"/>
<circle cx="125.7" cy="655.8" r="1.1" fill="#4f3a8a" opacity="0.9"/>
<circle cx="125.7" cy="656.5" r="1.1" fill="#4f3a8a" opacity="0.9"/>
<circle cx="125.9" cy="663.4" r="1.1" fill="#4f3a8a" opacity="0.9"/>
<circle cx="129.6" cy="658.8" r="1.1" fill="#4f3a8a" opacity="0.9"/>
<circle cx="126.7" cy="655.1" r="1.1" fill="#4f3a8a" opacity="0.9"/>
<circle cx="125.0" cy="656.7" r="1.1" fill="#4f3a8a" opacity="0.9"/>
<circle cx="122.3" cy="658.9" r="1.1" fill="#4f3a8a" opacity="0.9"/>
<circle cx="146.0" cy="662.2" r="7.0" fill="url(#g3)"/>
<circle cx="147.8" cy="662.5" r="1.1" fill="#4f3a8a" opacity="0.9"/>
<circle cx="145.5" cy="664.7" r="1.1" fill="#4f3a8a" opacity="0.9"/>
<circle cx="144.3" cy="657.7" r="1.1" fill="#4f3a8a" opacity="0.9"/>
<circle cx="141.6" cy="663.7" r="1.1" fill="#4f3a8a" opacity="0.9"/>
<circle cx="150.7" cy="661.8" r="1.1" fill="#4f3a8a" opacity="0.9"/>
<circle cx="160.6" cy="661.5" r="7.0" fill="url(#g3)"/>
<circle cx="159.0" cy="663.3" r="1.1" fill="#4f3a8a" opacity="0.9"/>
<circle cx="160.9" cy="663.8" r="1.1" fill="#4f3a8a" opacity="0.9"/>
<circle cx="161.7" cy="665.1" r="1.1" fill="#4f3a8a" opacity="0.9"/>
<circle cx="164.2" cy="658.9" r="1.1" fill="#4f3a8a" opacity="0.9"/>
<circle cx="156.8" cy="662.0" r="1.1" fill="#4f3a8a" opacity="0.9"/>
<circle cx="188.3" cy="656.1" r="7.0" fill="url(#g3)"/>
<circle cx="134.5" cy="677.0" r="7.0" fill="url(#g3)"/>
<circle cx="135.1" cy="675.1" r="1.1" fill="#4f3a8a" opacity="0.9"/>
<circle cx="132.0" cy="673.1" r="1.1" fill="#4f3a8a" opacity="0.9"/>
<circle cx="135.3" cy="673.0" r="1.1" fill="#4f3a8a" opacity="0.9"/>
<circle cx="132.2" cy="677.3" r="1.1" fill="#4f3a8a" opacity="0.9"/>
<circle cx="135.2" cy="674.3" r="1.1" fill="#4f3a8a" opacity="0.9"/>
<circle cx="148.3" cy="676.5" r="7.0" fill="url(#gi3)"/>
<circle cx="149.8" cy="671.9" r="1.1" fill="#4f3a8a" opacity="0.9"/>
<circle cx="145.9" cy="678.3" r="1.1" fill="#4f3a8a" opacity="0.9"/>
<circle cx="152.1" cy="675.2" r="1.1" fill="#4f3a8a" opacity="0.9"/>
<circle cx="149.3" cy="678.4" r="1.1" fill="#4f3a8a" opacity="0.9"/>
<circle cx="151.0" cy="680.2" r="1.1" fill="#4f3a8a" opacity="0.9"/>
<circle cx="149.1" cy="674.4" r="1.1" fill="#4f3a8a" opacity="0.9"/>
<circle cx="150.5" cy="672.2" r="1.1" fill="#4f3a8a" opacity="0.9"/>
<circle cx="146.7" cy="674.1" r="1.1" fill="#4f3a8a" opacity="0.9"/>
<circle cx="146.2" cy="675.8" r="1.1" fill="#4f3a8a" opacity="0.9"/>
<circle cx="180.0" cy="676.0" r="7.0" fill="url(#gi3)"/>
<circle cx="184.8" cy="676.4" r="1.1" fill="#4f3a8a" opacity="0.9"/>
<circle cx="178.0" cy="673.2" r="1.1" fill="#4f3a8a" opacity="0.9"/>
<circle cx="182.8" cy="674.7" r="1.1" fill="#4f3a8a" opacity="0.9"/>
<circle cx="183.0" cy="672.9" r="1.1" fill="#4f3a8a" opacity="0.9"/>
<circle cx="180.6" cy="678.5" r="1.1" fill="#4f3a8a" opacity="0.9"/>
<circle cx="179.3" cy="678.4" r="1.1" fill="#4f3a8a" opacity="0.9"/>
<circle cx="177.8" cy="674.7" r="1.1" fill="#4f3a8a" opacity="0.9"/>
<circle cx="178.1" cy="677.1" r="1.1" fill="#4f3a8a" opacity="0.9"/>
<circle cx="182.4" cy="674.5" r="1.1" fill="#4f3a8a" opacity="0.9"/>
<circle cx="119.0" cy="678.0" r="7.0" fill="url(#g3)"/>
<circle cx="60.8" cy="685.2" r="7.0" fill="url(#g3)"/>
<circle cx="90.1" cy="682.2" r="7.0" fill="url(#g3)"/>
<circle cx="100.1" cy="691.4" r="7.0" fill="url(#g3)"/>
<circle cx="98.1" cy="691.9" r="0.9" fill="#4f3a8a"/>
<circle cx="112.4" cy="687.5" r="7.0" fill="url(#g3)"/>
<circle cx="38.5" cy="725.2" r="7.0" fill="url(#g3)"/>
<circle cx="46.2" cy="740.6" r="6.2" fill="url(#g3)"/>
<circle cx="59.3" cy="738.3" r="6.5" fill="url(#g3)"/>
<circle cx="57.6" cy="737.3" r="0.9" fill="#4f3a8a"/>
<circle cx="73.9" cy="734.5" r="6.5" fill="url(#g3)"/>
<circle cx="75.5" cy="733.4" r="0.9" fill="#4f3a8a"/>
<circle cx="88.5" cy="739.1" r="6.2" fill="url(#g3)"/>
<circle cx="84.9" cy="741.1" r="1.1" fill="#4f3a8a" opacity="0.9"/>
<circle cx="85.5" cy="739.1" r="1.1" fill="#4f3a8a" opacity="0.9"/>
<circle cx="86.9" cy="738.9" r="1.1" fill="#4f3a8a" opacity="0.9"/>
<circle cx="86.6" cy="739.9" r="1.1" fill="#4f3a8a" opacity="0.9"/>
<circle cx="92.3" cy="739.2" r="1.1" fill="#4f3a8a" opacity="0.9"/>
<circle cx="106.2" cy="748.3" r="7.0" fill="url(#g3)"/>
<circle cx="107.2" cy="750.2" r="0.9" fill="#4f3a8a"/>
<ellipse cx="39.3" cy="743.7" rx="5.0" ry="6.0" fill="url(#g3)"/>
<circle cx="36.5" cy="744.2" r="1.1" fill="#4f3a8a" opacity="0.9"/>
<circle cx="37.4" cy="743.0" r="1.1" fill="#4f3a8a" opacity="0.9"/>
<circle cx="36.8" cy="743.4" r="1.1" fill="#4f3a8a" opacity="0.9"/>
<circle cx="39.6" cy="742.2" r="1.1" fill="#4f3a8a" opacity="0.9"/>
<circle cx="37.6" cy="743.0" r="1.1" fill="#4f3a8a" opacity="0.9"/>
<circle cx="47.8" cy="756.8" r="7.0" fill="url(#g3)"/>
<circle cx="67.0" cy="759.0" r="7.0" fill="url(#g3)"/>
<circle cx="163.7" cy="679.1" r="7.0" fill="url(#g3)"/>
<circle cx="154.5" cy="690.6" r="6.2" fill="url(#gi3)"/>
<circle cx="153.9" cy="694.3" r="1.1" fill="#4f3a8a" opacity="0.9"/>
<circle cx="151.4" cy="690.4" r="1.1" fill="#4f3a8a" opacity="0.9"/>
<circle cx="154.8" cy="686.5" r="1.1" fill="#4f3a8a" opacity="0.9"/>
<circle cx="151.4" cy="691.7" r="1.1" fill="#4f3a8a" opacity="0.9"/>
<circle cx="151.5" cy="690.5" r="1.1" fill="#4f3a8a" opacity="0.9"/>
<circle cx="153.5" cy="688.0" r="1.1" fill="#4f3a8a" opacity="0.9"/>
<circle cx="151.7" cy="690.0" r="1.1" fill="#4f3a8a" opacity="0.9"/>
<circle cx="157.8" cy="689.3" r="1.1" fill="#4f3a8a" opacity="0.9"/>
<circle cx="157.5" cy="687.7" r="1.1" fill="#4f3a8a" opacity="0.9"/>
<circle cx="176.0" cy="699.1" r="7.0" fill="url(#g3)"/>
<circle cx="165.2" cy="707.5" r="7.0" fill="url(#g3)"/>
<circle cx="165.0" cy="711.0" r="1.1" fill="#4f3a8a" opacity="0.9"/>
<circle cx="169.3" cy="706.0" r="1.1" fill="#4f3a8a" opacity="0.9"/>
<circle cx="166.6" cy="709.1" r="1.1" fill="#4f3a8a" opacity="0.9"/>
<circle cx="163.4" cy="708.2" r="1.1" fill="#4f3a8a" opacity="0.9"/>
<circle cx="165.3" cy="709.5" r="1.1" fill="#4f3a8a" opacity="0.9"/>
<circle cx="132.9" cy="721.4" r="7.0" fill="url(#g3)"/>
<circle cx="148.3" cy="719.8" r="7.0" fill="url(#g3)"/>
<circle cx="146.3" cy="716.1" r="1.1" fill="#4f3a8a" opacity="0.9"/>
<circle cx="150.1" cy="718.5" r="1.1" fill="#4f3a8a" opacity="0.9"/>
<circle cx="147.5" cy="716.1" r="1.1" fill="#4f3a8a" opacity="0.9"/>
<circle cx="151.1" cy="723.3" r="1.1" fill="#4f3a8a" opacity="0.9"/>
<circle cx="150.7" cy="719.3" r="1.1" fill="#4f3a8a" opacity="0.9"/>
<circle cx="163.7" cy="722.2" r="6.5" fill="url(#gi3)"/>
<circle cx="166.4" cy="721.4" r="1.1" fill="#4f3a8a" opacity="0.9"/>
<circle cx="159.2" cy="722.6" r="1.1" fill="#4f3a8a" opacity="0.9"/>
<circle cx="164.7" cy="720.4" r="1.1" fill="#4f3a8a" opacity="0.9"/>
<circle cx="160.9" cy="723.5" r="1.1" fill="#4f3a8a" opacity="0.9"/>
<circle cx="162.5" cy="724.1" r="1.1" fill="#4f3a8a" opacity="0.9"/>
<circle cx="162.1" cy="725.6" r="1.1" fill="#4f3a8a" opacity="0.9"/>
<circle cx="166.9" cy="722.6" r="1.1" fill="#4f3a8a" opacity="0.9"/>
<circle cx="162.1" cy="722.8" r="1.1" fill="#4f3a8a" opacity="0.9"/>
<circle cx="162.0" cy="725.2" r="1.1" fill="#4f3a8a" opacity="0.9"/>
<circle cx="121.4" cy="730.6" r="7.0" fill="url(#g3)"/>
<circle cx="119.5" cy="730.4" r="1.1" fill="#4f3a8a" opacity="0.9"/>
<circle cx="125.6" cy="730.2" r="1.1" fill="#4f3a8a" opacity="0.9"/>
<circle cx="123.4" cy="730.2" r="1.1" fill="#4f3a8a" opacity="0.9"/>
<circle cx="121.2" cy="732.5" r="1.1" fill="#4f3a8a" opacity="0.9"/>
<circle cx="121.9" cy="728.0" r="1.1" fill="#4f3a8a" opacity="0.9"/>
<circle cx="175.2" cy="740.6" r="7.0" fill="url(#g3)"/>
<ellipse cx="191.4" cy="734.5" rx="6.0" ry="7.0" fill="url(#g3)"/>
<circle cx="193.2" cy="736.4" r="1.1" fill="#4f3a8a" opacity="0.9"/>
<circle cx="194.6" cy="732.5" r="1.1" fill="#4f3a8a" opacity="0.9"/>
<circle cx="191.3" cy="736.4" r="1.1" fill="#4f3a8a" opacity="0.9"/>
<circle cx="194.1" cy="733.0" r="1.1" fill="#4f3a8a" opacity="0.9"/>
<circle cx="190.9" cy="732.8" r="1.1" fill="#4f3a8a" opacity="0.9"/>
<ellipse cx="189.8" cy="751.4" rx="6.0" ry="7.0" fill="url(#g3)"/>
<circle cx="192.9" cy="752.6" r="1.1" fill="#4f3a8a" opacity="0.9"/>
<circle cx="188.3" cy="752.2" r="1.1" fill="#4f3a8a" opacity="0.9"/>
<circle cx="192.8" cy="750.2" r="1.1" fill="#4f3a8a" opacity="0.9"/>
<circle cx="190.3" cy="749.8" r="1.1" fill="#4f3a8a" opacity="0.9"/>
<circle cx="190.8" cy="750.1" r="1.1" fill="#4f3a8a" opacity="0.9"/>
<circle cx="78.5" cy="605.3" r="1" fill="#4f3a8a" opacity="0.8"/>
<circle cx="148.3" cy="620.7" r="1" fill="#4f3a8a" opacity="0.8"/>
<circle cx="156" cy="616.8" r="1" fill="#4f3a8a" opacity="0.8"/>
<circle cx="144.5" cy="626.8" r="1" fill="#4f3a8a" opacity="0.8"/>
<circle cx="47.8" cy="719.8" r="1.3" fill="#4f3a8a" opacity="0.8"/>
<circle cx="165.2" cy="742.2" r="0.8" fill="#4f3a8a" opacity="0.8"/>
</g>
<g clip-path="url(#cp4)">
<rect x="196.4" y="593.4" width="160.6" height="166.6" fill="#dadbdc"/>
<circle cx="201.5" cy="594.6" r="6.9" fill="#e8e8e7"/>
<circle cx="209.2" cy="603.9" r="7.1" fill="#e8e8e7"/>
<circle cx="263.0" cy="614.8" r="7.9" fill="#e8e8e7"/>
<circle cx="210.0" cy="620.3" r="7.1" fill="#e8e8e7"/>
<circle cx="238.8" cy="625.7" r="7.1" fill="#e8e8e7"/>
<circle cx="213.1" cy="636.6" r="6.9" fill="#e8e8e7"/>
<circle cx="233.4" cy="641.3" r="7.1" fill="#e8e8e7"/>
<circle cx="249.7" cy="638.2" r="7.9" fill="#e8e8e7"/>
<circle cx="213.1" cy="654.5" r="7.1" fill="#e8e8e7"/>
<circle cx="200.7" cy="663.1" r="7.1" fill="#e8e8e7"/>
<circle cx="220.1" cy="667.8" r="6.9" fill="#e8e8e7"/>
<circle cx="270.0" cy="654.5" r="7.4" fill="#e8e8e7"/>
<circle cx="258.0" cy="675.0" r="7.4" fill="#e8e8e7"/>
<circle cx="301.2" cy="603.3" r="7.1" fill="#e8e8e7"/>
<circle cx="317.0" cy="606.4" r="7.1" fill="#e8e8e7"/>
<circle cx="281.5" cy="623.0" r="7.1" fill="#e8e8e7"/>
<circle cx="326.5" cy="639.5" r="7.9" fill="#e8e8e7"/>
<circle cx="353.3" cy="632.4" r="7.9" fill="#e8e8e7"/>
<circle cx="300.4" cy="657.7" r="7.1" fill="#e8e8e7"/>
<circle cx="318.6" cy="662.4" r="7.1" fill="#e8e8e7"/>
<circle cx="215.5" cy="707.9" r="7.9" fill="#e8e8e7"/>
<circle cx="277.0" cy="694.0" r="7.9" fill="#e8e8e7"/>
<circle cx="266.1" cy="722.7" r="7.9" fill="#e8e8e7"/>
<circle cx="260.6" cy="736.7" r="7.1" fill="#e8e8e7"/>
<circle cx="254.4" cy="749.2" r="7.9" fill="#e8e8e7"/>
<circle cx="207.7" cy="752.3" r="7.9" fill="#e8e8e7"/>
<circle cx="240.4" cy="755.4" r="7.1" fill="#e8e8e7"/>
<circle cx="306.0" cy="688.6" r="7.9" fill="#e8e8e7"/>
<circle cx="330.4" cy="687.8" r="7.9" fill="#e8e8e7"/>
<circle cx="347.0" cy="687.8" r="7.9" fill="#e8e8e7"/>
<circle cx="302.8" cy="705.2" r="7.1" fill="#e8e8e7"/>
<circle cx="283.1" cy="713.1" r="7.1" fill="#e8e8e7"/>
<circle cx="324.9" cy="713.9" r="6.9" fill="#e8e8e7"/>
<circle cx="335.1" cy="724.1" r="7.1" fill="#e8e8e7"/>
<circle cx="319.4" cy="728.0" r="7.1" fill="#e8e8e7"/>
<circle cx="304.4" cy="731.2" r="7.1" fill="#e8e8e7"/>
<circle cx="286.3" cy="729.6" r="7.1" fill="#e8e8e7"/>
<circle cx="277.0" cy="738.5" r="6.9" fill="#e8e8e7"/>
<circle cx="318.6" cy="743.0" r="7.1" fill="#e8e8e7"/>
<circle cx="201.5" cy="594.6" r="6.0" fill="url(#g4)"/>
<circle cx="203.3" cy="592.5" r="1.1" fill="#4f3a8a" opacity="0.9"/>
<circle cx="199.9" cy="597.1" r="1.1" fill="#4f3a8a" opacity="0.9"/>
<circle cx="203.5" cy="593.6" r="1.1" fill="#4f3a8a" opacity="0.9"/>
<circle cx="203.5" cy="596.7" r="1.1" fill="#4f3a8a" opacity="0.9"/>
<circle cx="201.6" cy="596.4" r="1.1" fill="#4f3a8a" opacity="0.9"/>
<circle cx="209.2" cy="603.9" r="6.2" fill="url(#g4)"/>
<circle cx="210.2" cy="605.5" r="0.9" fill="#4f3a8a"/>
<circle cx="263.0" cy="614.8" r="7.0" fill="url(#g4)"/>
<circle cx="210.0" cy="620.3" r="6.2" fill="url(#g4)"/>
<circle cx="238.8" cy="625.7" r="6.2" fill="url(#g4)"/>
<circle cx="240.8" cy="626.4" r="1.1" fill="#4f3a8a" opacity="0.9"/>
<circle cx="237.9" cy="627.9" r="1.1" fill="#4f3a8a" opacity="0.9"/>
<circle cx="238.9" cy="623.3" r="1.1" fill="#4f3a8a" opacity="0.9"/>
<circle cx="236.8" cy="625.7" r="1.1" fill="#4f3a8a" opacity="0.9"/>
<circle cx="237.9" cy="627.0" r="1.1" fill="#4f3a8a" opacity="0.9"/>
<circle cx="213.1" cy="636.6" r="6.0" fill="url(#g4)"/>
<circle cx="213.1" cy="638.4" r="0.9" fill="#4f3a8a"/>
<circle cx="233.4" cy="641.3" r="6.2" fill="url(#g4)"/>
<circle cx="237.0" cy="641.6" r="1.1" fill="#4f3a8a" opacity="0.9"/>
<circle cx="231.4" cy="640.6" r="1.1" fill="#4f3a8a" opacity="0.9"/>
<circle cx="229.3" cy="642.0" r="1.1" fill="#4f3a8a" opacity="0.9"/>
<circle cx="236.4" cy="643.7" r="1.1" fill="#4f3a8a" opacity="0.9"/>
<circle cx="230.7" cy="642.5" r="1.1" fill="#4f3a8a" opacity="0.9"/>
<circle cx="249.7" cy="638.2" r="7.0" fill="url(#g4)"/>
<circle cx="213.1" cy="654.5" r="6.2" fill="url(#g4)"/>
<circle cx="200.7" cy="663.1" r="6.2" fill="url(#g4)"/>
<circle cx="201.6" cy="661.5" r="0.9" fill="#4f3a8a"/>
<circle cx="220.1" cy="667.8" r="6.0" fill="url(#g4)"/>
<circle cx="217.9" cy="669.6" r="1.1" fill="#4f3a8a" opacity="0.9"/>
<circle cx="218.5" cy="664.0" r="1.1" fill="#4f3a8a" opacity="0.9"/>
<circle cx="218.0" cy="670.9" r="1.1" fill="#4f3a8a" opacity="0.9"/>
<circle cx="219.2" cy="664.7" r="1.1" fill="#4f3a8a" opacity="0.9"/>
<circle cx="218.1" cy="669.2" r="1.1" fill="#4f3a8a" opacity="0.9"/>
<circle cx="270.0" cy="654.5" r="6.5" fill="url(#g4)"/>
<circle cx="258.0" cy="675.0" r="6.5" fill="url(#g4)"/>
<circle cx="259.9" cy="675.7" r="1.1" fill="#4f3a8a" opacity="0.9"/>
<circle cx="261.4" cy="676.6" r="1.1" fill="#4f3a8a" opacity="0.9"/>
<circle cx="257.9" cy="677.1" r="1.1" fill="#4f3a8a" opacity="0.9"/>
<circle cx="261.5" cy="677.1" r="1.1" fill="#4f3a8a" opacity="0.9"/>
<circle cx="260.5" cy="672.4" r="1.1" fill="#4f3a8a" opacity="0.9"/>
<circle cx="301.2" cy="603.3" r="6.2" fill="url(#g4)"/>
<circle cx="300.8" cy="605.5" r="1.1" fill="#4f3a8a" opacity="0.9"/>
<circle cx="300.4" cy="606.0" r="1.1" fill="#4f3a8a" opacity="0.9"/>
<circle cx="302.7" cy="605.6" r="1.1" fill="#4f3a8a" opacity="0.9"/>
<circle cx="300.8" cy="607.5" r="1.1" fill="#4f3a8a" opacity="0.9"/>
<circle cx="304.2" cy="602.8" r="1.1" fill="#4f3a8a" opacity="0.9"/>
<circle cx="317.0" cy="606.4" r="6.2" fill="url(#g4)"/>
<circle cx="317.1" cy="610.6" r="1.1" fill="#4f3a8a" opacity="0.9"/>
<circle cx="316.1" cy="608.8" r="1.1" fill="#4f3a8a" opacity="0.9"/>
<circle cx="319.6" cy="606.4" r="1.1" fill="#4f3a8a" opacity="0.9"/>
<circle cx="314.1" cy="606.9" r="1.1" fill="#4f3a8a" opacity="0.9"/>
<circle cx="317.9" cy="609.2" r="1.1" fill="#4f3a8a" opacity="0.9"/>
<circle cx="281.5" cy="623.0" r="6.2" fill="url(#g4)"/>
<circle cx="283.8" cy="623.1" r="1.1" fill="#4f3a8a" opacity="0.9"/>
<circle cx="283.8" cy="624.4" r="1.1" fill="#4f3a8a" opacity="0.9"/>
<circle cx="283.1" cy="623.4" r="1.1" fill="#4f3a8a" opacity="0.9"/>
<circle cx="280.8" cy="625.1" r="1.1" fill="#4f3a8a" opacity="0.9"/>
<circle cx="278.9" cy="621.5" r="1.1" fill="#4f3a8a" opacity="0.9"/>
<circle cx="326.5" cy="639.5" r="7.0" fill="url(#g4)"/>
<circle cx="353.3" cy="632.4" r="7.0" fill="url(#g4)"/>
<circle cx="300.4" cy="657.7" r="6.2" fill="url(#g4)"/>
<circle cx="300.4" cy="654.3" r="1.1" fill="#4f3a8a" opacity="0.9"/>
<circle cx="299.6" cy="653.8" r="1.1" fill="#4f3a8a" opacity="0.9"/>
<circle cx="298.5" cy="659.3" r="1.1" fill="#4f3a8a" opacity="0.9"/>
<circle cx="302.4" cy="657.5" r="1.1" fill="#4f3a8a" opacity="0.9"/>
<circle cx="299.9" cy="654.4" r="1.1" fill="#4f3a8a" opacity="0.9"/>
<circle cx="318.6" cy="662.4" r="6.2" fill="url(#g4)"/>
<circle cx="322.3" cy="663.5" r="1.1" fill="#4f3a8a" opacity="0.9"/>
<circle cx="321.2" cy="660.3" r="1.1" fill="#4f3a8a" opacity="0.9"/>
<circle cx="318.2" cy="658.6" r="1.1" fill="#4f3a8a" opacity="0.9"/>
<circle cx="320.5" cy="664.7" r="1.1" fill="#4f3a8a" opacity="0.9"/>
<circle cx="314.7" cy="662.3" r="1.1" fill="#4f3a8a" opacity="0.9"/>
<circle cx="215.5" cy="707.9" r="7.0" fill="url(#g4)"/>
<circle cx="216.2" cy="705.9" r="0.9" fill="#4f3a8a"/>
<circle cx="277.0" cy="694.0" r="7.0" fill="url(#g4)"/>
<circle cx="266.1" cy="722.7" r="7.0" fill="url(#g4)"/>
<circle cx="260.6" cy="736.7" r="6.2" fill="url(#g4)"/>
<circle cx="262.1" cy="733.9" r="1.1" fill="#4f3a8a" opacity="0.9"/>
<circle cx="263.3" cy="734.5" r="1.1" fill="#4f3a8a" opacity="0.9"/>
<circle cx="259.8" cy="734.6" r="1.1" fill="#4f3a8a" opacity="0.9"/>
<circle cx="262.5" cy="737.1" r="1.1" fill="#4f3a8a" opacity="0.9"/>
<circle cx="259.4" cy="738.1" r="1.1" fill="#4f3a8a" opacity="0.9"/>
<circle cx="254.4" cy="749.2" r="7.0" fill="url(#g4)"/>
<circle cx="207.7" cy="752.3" r="7.0" fill="url(#g4)"/>
<circle cx="240.4" cy="755.4" r="6.2" fill="url(#g4)"/>
<circle cx="242.0" cy="752.7" r="1.1" fill="#4f3a8a" opacity="0.9"/>
<circle cx="238.1" cy="753.0" r="1.1" fill="#4f3a8a" opacity="0.9"/>
<circle cx="239.2" cy="752.8" r="1.1" fill="#4f3a8a" opacity="0.9"/>
<circle cx="244.2" cy="755.5" r="1.1" fill="#4f3a8a" opacity="0.9"/>
<circle cx="240.4" cy="752.4" r="1.1" fill="#4f3a8a" opacity="0.9"/>
<circle cx="306.0" cy="688.6" r="7.0" fill="url(#g4)"/>
<circle cx="330.4" cy="687.8" r="7.0" fill="url(#g4)"/>
<circle cx="347.0" cy="687.8" r="7.0" fill="url(#g4)"/>
<circle cx="302.8" cy="705.2" r="6.2" fill="url(#g4)"/>
<circle cx="283.1" cy="713.1" r="6.2" fill="url(#g4)"/>
<circle cx="324.9" cy="713.9" r="6.0" fill="url(#g4)"/>
<circle cx="321.7" cy="713.2" r="1.1" fill="#4f3a8a" opacity="0.9"/>
<circle cx="328.1" cy="715.3" r="1.1" fill="#4f3a8a" opacity="0.9"/>
<circle cx="324.9" cy="715.6" r="1.1" fill="#4f3a8a" opacity="0.9"/>
<circle cx="324.6" cy="717.4" r="1.1" fill="#4f3a8a" opacity="0.9"/>
<circle cx="325.9" cy="717.3" r="1.1" fill="#4f3a8a" opacity="0.9"/>
<circle cx="335.1" cy="724.1" r="6.2" fill="url(#g4)"/>
<circle cx="338.0" cy="723.7" r="1.1" fill="#4f3a8a" opacity="0.9"/>
<circle cx="333.0" cy="726.0" r="1.1" fill="#4f3a8a" opacity="0.9"/>
<circle cx="333.6" cy="720.7" r="1.1" fill="#4f3a8a" opacity="0.9"/>
<circle cx="332.6" cy="721.9" r="1.1" fill="#4f3a8a" opacity="0.9"/>
<circle cx="336.8" cy="725.0" r="1.1" fill="#4f3a8a" opacity="0.9"/>
<circle cx="319.4" cy="728.0" r="6.2" fill="url(#g4)"/>
<circle cx="319.3" cy="731.6" r="1.1" fill="#4f3a8a" opacity="0.9"/>
<circle cx="318.3" cy="731.0" r="1.1" fill="#4f3a8a" opacity="0.9"/>
<circle cx="321.1" cy="728.1" r="1.1" fill="#4f3a8a" opacity="0.9"/>
<circle cx="319.0" cy="731.4" r="1.1" fill="#4f3a8a" opacity="0.9"/>
<circle cx="318.2" cy="724.8" r="1.1" fill="#4f3a8a" opacity="0.9"/>
<circle cx="304.4" cy="731.2" r="6.2" fill="url(#g4)"/>
<circle cx="303.6" cy="734.1" r="1.1" fill="#4f3a8a" opacity="0.9"/>
<circle cx="301.6" cy="731.8" r="1.1" fill="#4f3a8a" opacity="0.9"/>
<circle cx="307.4" cy="733.9" r="1.1" fill="#4f3a8a" opacity="0.9"/>
<circle cx="305.7" cy="735.3" r="1.1" fill="#4f3a8a" opacity="0.9"/>
<circle cx="305.9" cy="730.6" r="1.1" fill="#4f3a8a" opacity="0.9"/>
<circle cx="286.3" cy="729.6" r="6.2" fill="url(#g4)"/>
<circle cx="277.0" cy="738.5" r="6.0" fill="url(#g4)"/>
<circle cx="273.4" cy="739.4" r="1.1" fill="#4f3a8a" opacity="0.9"/>
<circle cx="279.7" cy="738.0" r="1.1" fill="#4f3a8a" opacity="0.9"/>
<circle cx="276.8" cy="740.6" r="1.1" fill="#4f3a8a" opacity="0.9"/>
<circle cx="278.9" cy="737.8" r="1.1" fill="#4f3a8a" opacity="0.9"/>
<circle cx="275.4" cy="737.6" r="1.1" fill="#4f3a8a" opacity="0.9"/>
<circle cx="318.6" cy="743.0" r="6.2" fill="url(#g4)"/>
<circle cx="242.7" cy="678.3" r="1.3" fill="#4f3a8a" opacity="0.8"/>
<circle cx="316.2" cy="696.5" r="1.2" fill="#4f3a8a" opacity="0.8"/>
<circle cx="317" cy="753.3" r="1" fill="#4f3a8a" opacity="0.8"/>
<circle cx="323.3" cy="739.9" r="1" fill="#4f3a8a" opacity="0.8"/>
</g>
<g clip-path="url(#cp5)">
<rect x="357.4" y="593.4" width="162.6" height="166.6" fill="#dfe0e2"/>
<circle cx="403.2" cy="601.6" r="8.4" fill="#e8e9ec"/>
<circle cx="371.2" cy="629.6" r="8.4" fill="#e8e9ec"/>
<circle cx="391.5" cy="637.4" r="8.7" fill="#e8e9ec"/>
<circle cx="411.0" cy="638.2" r="7.4" fill="#e8e9ec"/>
<circle cx="428.1" cy="630.4" r="8.7" fill="#e8e9ec"/>
<circle cx="373.6" cy="649.9" r="8.4" fill="#e8e9ec"/>
<circle cx="396.2" cy="656.9" r="7.4" fill="#e8e9ec"/>
<circle cx="390.7" cy="674.0" r="7.1" fill="#e8e9ec"/>
<circle cx="406.0" cy="678.5" r="7.1" fill="#e8e9ec"/>
<circle cx="475.1" cy="613.5" r="8.7" fill="#e8e9ec"/>
<ellipse cx="516.9" cy="599.3" rx="5.9" ry="6.9" fill="#e8e9ec"/>
<circle cx="489.3" cy="653.7" r="8.4" fill="#e8e9ec"/>
<circle cx="465.6" cy="668.7" r="7.9" fill="#e8e9ec"/>
<ellipse cx="516.1" cy="667.9" rx="5.9" ry="7.9" fill="#e8e9ec"/>
<circle cx="505.8" cy="680.0" r="7.1" fill="#e8e9ec"/>
<circle cx="393.0" cy="691.6" r="7.4" fill="#e8e9ec"/>
<ellipse cx="404.7" cy="706.4" rx="9.9" ry="8.9" fill="#e8e9ec"/>
<circle cx="402.4" cy="739.9" r="7.9" fill="#e8e9ec"/>
<circle cx="412.5" cy="750.0" r="8.4" fill="#e8e9ec"/>
<circle cx="440.0" cy="715.0" r="7.4" fill="#e8e9ec"/>
<circle cx="439.5" cy="753.0" r="6.9" fill="#e8e9ec"/>
<circle cx="501.9" cy="709.1" r="7.4" fill="#e8e9ec"/>
<circle cx="468.8" cy="723.3" r="8.4" fill="#e8e9ec"/>
<ellipse cx="467.2" cy="738.3" rx="8.7" ry="7.4" fill="#e8e9ec"/>
<ellipse cx="488.5" cy="758.0" rx="6.9" ry="3.9" fill="#e8e9ec"/>
<circle cx="403.2" cy="601.6" r="7.5" fill="url(#g5)"/>
<circle cx="371.2" cy="629.6" r="7.5" fill="url(#g5)"/>
<circle cx="369.0" cy="629.3" r="0.9" fill="#4f3a8a"/>
<circle cx="391.5" cy="637.4" r="7.8" fill="url(#g5)"/>
<circle cx="411.0" cy="638.2" r="6.5" fill="url(#gi5)"/>
<circle cx="412.9" cy="637.6" r="1.1" fill="#4f3a8a" opacity="0.9"/>
<circle cx="412.3" cy="635.4" r="1.1" fill="#4f3a8a" opacity="0.9"/>
<circle cx="413.8" cy="635.8" r="1.1" fill="#4f3a8a" opacity="0.9"/>
<circle cx="411.5" cy="642.4" r="1.1" fill="#4f3a8a" opacity="0.9"/>
<circle cx="409.3" cy="638.3" r="1.1" fill="#4f3a8a" opacity="0.9"/>
<circle cx="414.1" cy="638.3" r="1.1" fill="#4f3a8a" opacity="0.9"/>
<circle cx="408.6" cy="639.0" r="1.1" fill="#4f3a8a" opacity="0.9"/>
<circle cx="412.7" cy="640.2" r="1.1" fill="#4f3a8a" opacity="0.9"/>
<circle cx="409.4" cy="641.9" r="1.1" fill="#4f3a8a" opacity="0.9"/>
<circle cx="428.1" cy="630.4" r="7.8" fill="url(#g5)"/>
<circle cx="373.6" cy="649.9" r="7.5" fill="url(#g5)"/>
<circle cx="396.2" cy="656.9" r="6.5" fill="url(#g5)"/>
<circle cx="400.0" cy="656.9" r="1.1" fill="#4f3a8a" opacity="0.9"/>
<circle cx="397.2" cy="655.2" r="1.1" fill="#4f3a8a" opacity="0.9"/>
<circle cx="399.5" cy="655.2" r="1.1" fill="#4f3a8a" opacity="0.9"/>
<circle cx="398.2" cy="655.5" r="1.1" fill="#4f3a8a" opacity="0.9"/>
<circle cx="394.3" cy="658.9" r="1.1" fill="#4f3a8a" opacity="0.9"/>
<circle cx="390.7" cy="674.0" r="6.2" fill="url(#gi5)"/>
<circle cx="393.9" cy="674.0" r="1.1" fill="#4f3a8a" opacity="0.9"/>
<circle cx="388.9" cy="676.1" r="1.1" fill="#4f3a8a" opacity="0.9"/>
<circle cx="390.4" cy="675.7" r="1.1" fill="#4f3a8a" opacity="0.9"/>
<circle cx="393.8" cy="676.3" r="1.1" fill="#4f3a8a" opacity="0.9"/>
<circle cx="389.8" cy="678.1" r="1.1" fill="#4f3a8a" opacity="0.9"/>
<circle cx="390.7" cy="676.3" r="1.1" fill="#4f3a8a" opacity="0.9"/>
<circle cx="388.6" cy="673.9" r="1.1" fill="#4f3a8a" opacity="0.9"/>
<circle cx="387.7" cy="677.0" r="1.1" fill="#4f3a8a" opacity="0.9"/>
<circle cx="393.5" cy="671.5" r="1.1" fill="#4f3a8a" opacity="0.9"/>
<circle cx="406.0" cy="678.5" r="6.2" fill="url(#g5)"/>
<circle cx="403.2" cy="675.5" r="1.1" fill="#4f3a8a" opacity="0.9"/>
<circle cx="408.9" cy="677.4" r="1.1" fill="#4f3a8a" opacity="0.9"/>
<circle cx="405.7" cy="676.8" r="1.1" fill="#4f3a8a" opacity="0.9"/>
<circle cx="405.7" cy="675.7" r="1.1" fill="#4f3a8a" opacity="0.9"/>
<circle cx="406.1" cy="675.2" r="1.1" fill="#4f3a8a" opacity="0.9"/>
<circle cx="475.1" cy="613.5" r="7.8" fill="url(#g5)"/>
<ellipse cx="516.9" cy="599.3" rx="5.0" ry="6.0" fill="url(#g5)"/>
<circle cx="516.6" cy="600.8" r="0.9" fill="#4f3a8a"/>
<circle cx="489.3" cy="653.7" r="7.5" fill="url(#g5)"/>
<circle cx="465.6" cy="668.7" r="7.0" fill="url(#g5)"/>
<circle cx="467.6" cy="669.3" r="0.9" fill="#4f3a8a"/>
<ellipse cx="516.1" cy="667.9" rx="5.0" ry="7.0" fill="url(#g5)"/>
<circle cx="505.8" cy="680.0" r="6.2" fill="url(#gi5)"/>
<circle cx="507.5" cy="679.2" r="1.1" fill="#4f3a8a" opacity="0.9"/>
<circle cx="503.3" cy="680.4" r="1.1" fill="#4f3a8a" opacity="0.9"/>
<circle cx="504.7" cy="683.5" r="1.1" fill="#4f3a8a" opacity="0.9"/>
<circle cx="508.1" cy="679.7" r="1.1" fill="#4f3a8a" opacity="0.9"/>
<circle cx="504.5" cy="678.0" r="1.1" fill="#4f3a8a" opacity="0.9"/>
<circle cx="503.3" cy="679.1" r="1.1" fill="#4f3a8a" opacity="0.9"/>
<circle cx="506.8" cy="681.7" r="1.1" fill="#4f3a8a" opacity="0.9"/>
<circle cx="506.9" cy="683.9" r="1.1" fill="#4f3a8a" opacity="0.9"/>
<circle cx="503.6" cy="680.0" r="1.1" fill="#4f3a8a" opacity="0.9"/>
<circle cx="393.0" cy="691.6" r="6.5" fill="url(#g5)"/>
<circle cx="394.6" cy="690.5" r="0.9" fill="#4f3a8a"/>
<ellipse cx="404.7" cy="706.4" rx="9.0" ry="8.0" fill="url(#g5)"/>
<circle cx="402.4" cy="739.9" r="7.0" fill="url(#g5)"/>
<circle cx="404.5" cy="739.9" r="0.9" fill="#4f3a8a"/>
<circle cx="412.5" cy="750.0" r="7.5" fill="url(#g5)"/>
<circle cx="440.0" cy="715.0" r="6.5" fill="url(#gi5)"/>
<circle cx="438.1" cy="715.6" r="1.1" fill="#4f3a8a" opacity="0.9"/>
<circle cx="440.7" cy="716.8" r="1.1" fill="#4f3a8a" opacity="0.9"/>
<circle cx="439.0" cy="716.6" r="1.1" fill="#4f3a8a" opacity="0.9"/>
<circle cx="440.2" cy="717.4" r="1.1" fill="#4f3a8a" opacity="0.9"/>
<circle cx="436.2" cy="713.2" r="1.1" fill="#4f3a8a" opacity="0.9"/>
<circle cx="440.0" cy="712.2" r="1.1" fill="#4f3a8a" opacity="0.9"/>
<circle cx="437.3" cy="716.6" r="1.1" fill="#4f3a8a" opacity="0.9"/>
<circle cx="438.1" cy="716.8" r="1.1" fill="#4f3a8a" opacity="0.9"/>
<circle cx="442.3" cy="715.9" r="1.1" fill="#4f3a8a" opacity="0.9"/>
<circle cx="439.5" cy="753.0" r="6.0" fill="url(#gi5)"/>
<circle cx="441.3" cy="752.6" r="1.1" fill="#4f3a8a" opacity="0.9"/>
<circle cx="436.3" cy="752.9" r="1.1" fill="#4f3a8a" opacity="0.9"/>
<circle cx="440.9" cy="751.4" r="1.1" fill="#4f3a8a" opacity="0.9"/>
<circle cx="439.2" cy="755.2" r="1.1" fill="#4f3a8a" opacity="0.9"/>
<circle cx="437.3" cy="754.6" r="1.1" fill="#4f3a8a" opacity="0.9"/>
<circle cx="443.1" cy="751.9" r="1.1" fill="#4f3a8a" opacity="0.9"/>
<circle cx="440.6" cy="751.9" r="1.1" fill="#4f3a8a" opacity="0.9"/>
<circle cx="442.8" cy="753.7" r="1.1" fill="#4f3a8a" opacity="0.9"/>
<circle cx="441.7" cy="751.3" r="1.1" fill="#4f3a8a" opacity="0.9"/>
<circle cx="501.9" cy="709.1" r="6.5" fill="url(#g5)"/>
<circle cx="468.8" cy="723.3" r="7.5" fill="url(#g5)"/>
<circle cx="467.2" cy="722.3" r="1.1" fill="#4f3a8a" opacity="0.9"/>
<circle cx="464.9" cy="726.5" r="1.1" fill="#4f3a8a" opacity="0.9"/>
<circle cx="471.0" cy="719.1" r="1.1" fill="#4f3a8a" opacity="0.9"/>
<circle cx="471.5" cy="722.8" r="1.1" fill="#4f3a8a" opacity="0.9"/>
<circle cx="470.7" cy="724.8" r="1.1" fill="#4f3a8a" opacity="0.9"/>
<ellipse cx="467.2" cy="738.3" rx="7.8" ry="6.5" fill="url(#g5)"/>
<ellipse cx="488.5" cy="758.0" rx="6.0" ry="3.0" fill="url(#g5)"/>
<circle cx="416.4" cy="649.1" r="0.9" fill="#4f3a8a" opacity="0.8"/>
<circle cx="364.2" cy="706.4" r="3.5" fill="#dcc2d4" opacity="0.8"/>
</g>
<path d="M262.0,505.9 L271.1,510.5 L262.0,515.1 Z" fill="#f6c4a8" opacity="0.8"/>
<path d="M262.8,506.7 L270.3,510.5 L262.8,514.3 Z" fill="#e63e12"/>
<path d="M223.4,547.1999999999999 L232.5,551.8 L223.4,556.4 Z" fill="#f6c4a8" opacity="0.8"/>
<path d="M224.20000000000002,548.0 L231.70000000000002,551.8 L224.20000000000002,555.5999999999999 Z" fill="#e63e12"/>
<path d="M287.3,569.9 L296.40000000000003,574.5 L287.3,579.1 Z" fill="#f6c4a8" opacity="0.8"/>
<path d="M288.1,570.7 L295.6,574.5 L288.1,578.3 Z" fill="#e63e12"/>
<path d="M443.8,426.9 L452.90000000000003,431.5 L443.8,436.1 Z" fill="#f6c4a8" opacity="0.8"/>
<path d="M444.6,427.7 L452.1,431.5 L444.6,435.3 Z" fill="#e63e12"/>
<path d="M478.5,505.9 L487.6,510.5 L478.5,515.1 Z" fill="#f6c4a8" opacity="0.8"/>
<path d="M479.3,506.7 L486.8,510.5 L479.3,514.3 Z" fill="#e63e12"/>
<path d="M474.5,522.5 L483.6,527.1 L474.5,531.7 Z" fill="#f6c4a8" opacity="0.8"/>
<path d="M475.3,523.3000000000001 L482.8,527.1 L475.3,530.9 Z" fill="#e63e12"/>
<path d="M195.5,426 V760 M357.0,426 V760 M37,592.5 H520" stroke="#ececec" stroke-width="0.8" fill="none"/>
<rect x="494.8" y="753.3" width="22.2" height="1.6" fill="#111"/>
<text x="505.8" y="751.2" font-size="5.2" text-anchor="middle" fill="#111" stroke="#111" stroke-width="0.2">10 µm</text>
</svg></body></html>
